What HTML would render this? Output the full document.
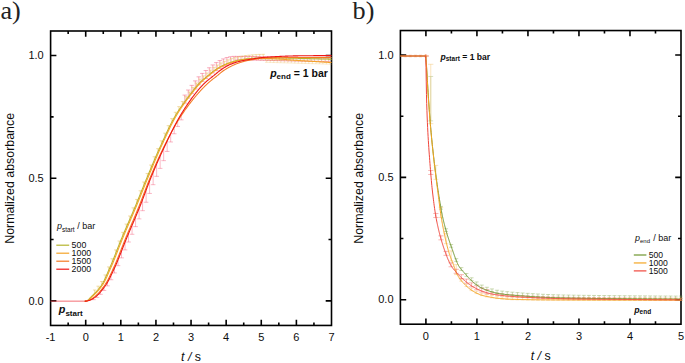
<!DOCTYPE html>
<html><head><meta charset="utf-8"><title>Normalized absorbance</title>
<style>html,body{margin:0;padding:0;background:#fff}svg{display:block}</style>
</head><body>
<svg width="685" height="363" viewBox="0 0 685 363" font-family='"Liberation Sans", sans-serif' fill="#0d0d0d">
<rect width="685" height="363" fill="#fff"/>
<rect x="50.6" y="31.0" width="280.9" height="294.45" fill="none" stroke="#000" stroke-width="1.6"/>
<path d="M85.71 325.45v-5.8M85.71 31.0v5.8M120.82 325.45v-5.8M120.82 31.0v5.8M155.94 325.45v-5.8M155.94 31.0v5.8M191.05 325.45v-5.8M191.05 31.0v5.8M226.16 325.45v-5.8M226.16 31.0v5.8M261.27 325.45v-5.8M261.27 31.0v5.8M296.39 325.45v-5.8M296.39 31.0v5.8M68.16 325.45v-3.0M68.16 31.0v3.0M103.27 325.45v-3.0M103.27 31.0v3.0M138.38 325.45v-3.0M138.38 31.0v3.0M173.49 325.45v-3.0M173.49 31.0v3.0M208.61 325.45v-3.0M208.61 31.0v3.0M243.72 325.45v-3.0M243.72 31.0v3.0M278.83 325.45v-3.0M278.83 31.0v3.0M313.94 325.45v-3.0M313.94 31.0v3.0M50.6 300.91h5.8M331.5 300.91h-5.8M50.6 178.23h5.8M331.5 178.23h-5.8M50.6 55.54h5.8M331.5 55.54h-5.8M50.6 239.57h3.0M331.5 239.57h-3.0M50.6 116.88h3.0M331.5 116.88h-3.0" stroke="#000" stroke-width="1.6" fill="none"/>
<text x="50.60" y="340.85" font-size="11" text-anchor="middle">-1</text>
<text x="85.71" y="340.85" font-size="11" text-anchor="middle">0</text>
<text x="120.82" y="340.85" font-size="11" text-anchor="middle">1</text>
<text x="155.94" y="340.85" font-size="11" text-anchor="middle">2</text>
<text x="191.05" y="340.85" font-size="11" text-anchor="middle">3</text>
<text x="226.16" y="340.85" font-size="11" text-anchor="middle">4</text>
<text x="261.27" y="340.85" font-size="11" text-anchor="middle">5</text>
<text x="296.39" y="340.85" font-size="11" text-anchor="middle">6</text>
<text x="331.50" y="340.85" font-size="11" text-anchor="middle">7</text>
<text x="43.70" y="304.61" font-size="11" text-anchor="end">0.0</text>
<text x="43.70" y="181.93" font-size="11" text-anchor="end">0.5</text>
<text x="43.70" y="59.24" font-size="11" text-anchor="end">1.0</text>
<text x="191.05" y="361.1" font-size="12.4" text-anchor="middle"><tspan font-style="italic">t /</tspan> s</text>
<text transform="translate(14.4 178.4) rotate(-90)" font-size="12.4" text-anchor="middle">Normalized absorbance</text>
<path d="M93.44 298.36V299.66M91.14 299.66h4.6M96.95 295.68V297.44M94.65 297.44h4.6M100.46 292.00V294.30M98.16 294.30h4.6M103.97 287.55V290.43M101.67 290.43h4.6M107.48 282.34V285.86M105.18 285.86h4.6M110.99 275.56V279.75M108.69 279.75h4.6M114.50 267.99V272.95M112.20 272.95h4.6M118.02 259.85V265.66M115.72 265.66h4.6M121.53 251.03V257.87M119.23 257.87h4.6M125.04 242.10V249.91M122.74 249.91h4.6M128.55 233.56V242.02M126.25 242.02h4.6M132.06 225.29V234.29M129.76 234.29h4.6M135.57 217.02V226.63M133.27 226.63h4.6M139.08 208.53V218.89M136.78 218.89h4.6M142.59 199.54V210.68M140.29 210.68h4.6M146.11 190.17V202.26M143.81 202.26h4.6M149.62 180.95V193.45M147.32 193.45h4.6M153.13 172.33V184.70M150.83 184.70h4.6M156.64 164.03V176.33M154.34 176.33h4.6M160.15 156.03V168.40M157.85 168.40h4.6M163.66 148.36V160.67M161.36 160.67h4.6M167.17 140.94V151.44M164.87 151.44h4.6M170.68 133.69V141.99M168.38 141.99h4.6M174.20 126.72V133.78M171.90 133.78h4.6M177.71 120.17V126.45M175.41 126.45h4.6M181.22 114.14V119.88M178.92 119.88h4.6" fill="none" stroke="#f2466a" stroke-width="0.7" stroke-opacity="0.55"/>
<path d="M184.73 95.08V103.08M182.53 95.08h4.4M182.53 103.08h4.4M188.24 90.02V98.02M186.04 90.02h4.4M186.04 98.02h4.4M191.75 85.37V93.37M189.55 85.37h4.4M189.55 93.37h4.4M195.26 80.90V88.90M193.06 80.90h4.4M193.06 88.90h4.4M198.77 76.83V84.83M196.57 76.83h4.4M196.57 84.83h4.4M202.29 73.43V81.43M200.09 73.43h4.4M200.09 81.43h4.4M205.80 70.54V78.54M203.60 70.54h4.4M203.60 78.54h4.4M209.31 67.77V75.77M207.11 67.77h4.4M207.11 75.77h4.4M212.82 64.94V72.94M210.62 64.94h4.4M210.62 72.94h4.4M216.33 62.60V70.60M214.13 62.60h4.4M214.13 70.60h4.4M219.84 60.58V68.58M217.64 60.58h4.4M217.64 68.58h4.4M223.35 58.93V66.93M221.15 58.93h4.4M221.15 66.93h4.4M226.86 57.57V65.57M224.66 57.57h4.4M224.66 65.57h4.4M230.38 56.79V64.33M228.18 56.79h4.4M228.18 64.33h4.4M233.89 56.36V62.99M231.69 56.36h4.4M231.69 62.99h4.4M237.40 56.40V60.00M235.20 56.40h4.4M235.20 60.00h4.4M240.91 56.40V60.00M238.71 56.40h4.4M238.71 60.00h4.4M244.42 56.40V60.00M242.22 56.40h4.4M242.22 60.00h4.4M247.93 56.40V60.00M245.73 56.40h4.4M245.73 60.00h4.4M251.44 56.43V60.03M249.24 56.43h4.4M249.24 60.03h4.4M254.95 56.51V60.11M252.75 56.51h4.4M252.75 60.11h4.4M258.47 56.59V60.19M256.27 56.59h4.4M256.27 60.19h4.4M261.98 56.66V60.26M259.78 56.66h4.4M259.78 60.26h4.4M265.49 56.74V60.34M263.29 56.74h4.4M263.29 60.34h4.4M269.00 56.82V60.42M266.80 56.82h4.4M266.80 60.42h4.4M272.51 56.90V60.50M270.31 56.90h4.4M270.31 60.50h4.4M276.02 56.97V60.57M273.82 56.97h4.4M273.82 60.57h4.4M279.53 57.05V60.65M277.33 57.05h4.4M277.33 60.65h4.4M283.04 57.13V60.73M280.84 57.13h4.4M280.84 60.73h4.4M286.56 57.20V60.80M284.36 57.20h4.4M284.36 60.80h4.4M290.07 57.28V60.88M287.87 57.28h4.4M287.87 60.88h4.4M293.58 57.36V60.96M291.38 57.36h4.4M291.38 60.96h4.4M297.09 57.44V61.04M294.89 57.44h4.4M294.89 61.04h4.4M300.60 57.51V61.11M298.40 57.51h4.4M298.40 61.11h4.4M304.11 57.59V61.19M301.91 57.59h4.4M301.91 61.19h4.4M307.62 57.67V61.27M305.42 57.67h4.4M305.42 61.27h4.4M311.13 57.74V61.34M308.93 57.74h4.4M308.93 61.34h4.4M314.65 57.82V61.42M312.45 57.82h4.4M312.45 61.42h4.4M318.16 57.90V61.50M315.96 57.90h4.4M315.96 61.50h4.4M321.67 57.98V61.58M319.47 57.98h4.4M319.47 61.58h4.4M325.18 58.05V61.65M322.98 58.05h4.4M322.98 61.65h4.4M328.69 58.13V61.73M326.49 58.13h4.4M326.49 61.73h4.4" fill="none" stroke="#f03c62" stroke-width="0.7" stroke-opacity="0.6"/>
<path d="M94.64 289.98V293.38M92.94 289.98h3.4M98.15 286.17V289.57M96.45 286.17h3.4M101.66 281.51V284.91M99.96 281.51h3.4M105.17 274.93V278.33M103.47 274.93h3.4M108.68 266.93V270.33M106.98 266.93h3.4M112.19 258.74V262.14M110.49 258.74h3.4M115.70 249.95V253.35M114.00 249.95h3.4M119.22 240.99V244.39M117.52 240.99h3.4M122.73 232.34V235.74M121.03 232.34h3.4M126.24 224.09V227.49M124.54 224.09h3.4M129.75 215.99V219.39M128.05 215.99h3.4M133.26 207.84V211.24M131.56 207.84h3.4M136.77 199.43V202.83M135.07 199.43h3.4M140.28 190.76V194.16M138.58 190.76h3.4M143.79 182.03V185.43M142.09 182.03h3.4M147.31 173.47V176.87M145.61 173.47h3.4M150.82 165.05V168.45M149.12 165.05h3.4M154.33 156.73V160.13M152.63 156.73h3.4M157.84 148.63V152.03M156.14 148.63h3.4M161.35 140.85V144.25M159.65 140.85h3.4M164.86 133.15V136.55M163.16 133.15h3.4M168.37 125.65V129.05M166.67 125.65h3.4M171.88 118.60V122.00M170.18 118.60h3.4M175.40 112.27V115.67M173.70 112.27h3.4M178.91 106.64V110.04M177.21 106.64h3.4M182.42 101.47V104.87M180.72 101.47h3.4M185.93 96.63V100.03M184.23 96.63h3.4M189.44 91.98V95.38M187.74 91.98h3.4M192.95 87.41V90.81M191.25 87.41h3.4M196.46 83.02V86.42M194.76 83.02h3.4M199.97 79.13V82.53M198.27 79.13h3.4M203.49 75.90V79.30M201.79 75.90h3.4M207.00 73.03V76.43M205.30 73.03h3.4M210.51 70.13V73.53M208.81 70.13h3.4M214.02 67.35V70.75M212.32 67.35h3.4M217.53 65.02V68.42M215.83 65.02h3.4M221.04 62.99V66.39M219.34 62.99h3.4M224.55 61.30V64.70M222.85 61.30h3.4M228.06 59.85V63.25M226.36 59.85h3.4M231.58 58.65V62.05M229.88 58.65h3.4M235.09 57.65V61.05M233.39 57.65h3.4M238.60 56.82V60.22M236.90 56.82h3.4M242.11 56.15V59.55M240.41 56.15h3.4M245.62 55.59V58.99M243.92 55.59h3.4M249.13 55.19V58.59M247.43 55.19h3.4M252.64 54.89V58.29M250.94 54.89h3.4M256.15 54.63V58.03M254.45 54.63h3.4M259.67 54.43V57.83M257.97 54.43h3.4M263.18 54.32V57.72M261.48 54.32h3.4" fill="none" stroke="#e4b23a" stroke-width="0.7" stroke-opacity="0.6"/>
<path d="M266.69 59.90V62.30M264.99 59.90h3.4M264.99 62.30h3.4M270.20 60.01V62.41M268.50 60.01h3.4M268.50 62.41h3.4M273.71 60.12V62.52M272.01 60.12h3.4M272.01 62.52h3.4M277.22 60.22V62.62M275.52 60.22h3.4M275.52 62.62h3.4M280.73 60.33V62.73M279.03 60.33h3.4M279.03 62.73h3.4M284.24 60.43V62.83M282.54 60.43h3.4M282.54 62.83h3.4M287.76 60.54V62.94M286.06 60.54h3.4M286.06 62.94h3.4M291.27 60.64V63.04M289.57 60.64h3.4M289.57 63.04h3.4M294.78 60.75V63.15M293.08 60.75h3.4M293.08 63.15h3.4M298.29 60.85V63.25M296.59 60.85h3.4M296.59 63.25h3.4M301.80 60.96V63.36M300.10 60.96h3.4M300.10 63.36h3.4M305.31 61.06V63.46M303.61 61.06h3.4M303.61 63.46h3.4M308.82 61.17V63.57M307.12 61.17h3.4M307.12 63.57h3.4M312.33 61.27V63.67M310.63 61.27h3.4M310.63 63.67h3.4M315.85 61.38V63.78M314.15 61.38h3.4M314.15 63.78h3.4M319.36 61.48V63.88M317.66 61.48h3.4M317.66 63.88h3.4M322.87 61.59V63.99M321.17 61.59h3.4M321.17 63.99h3.4M326.38 61.70V64.10M324.68 61.70h3.4M324.68 64.10h3.4M329.89 61.80V64.20M328.19 61.80h3.4M328.19 64.20h3.4" fill="none" stroke="#ecb040" stroke-width="0.7" stroke-opacity="0.4"/>
<path d="M260.67 57.80V59.80M259.07 57.80h3.2M259.07 59.80h3.2M264.18 57.80V59.80M262.58 57.80h3.2M262.58 59.80h3.2M267.69 57.80V59.80M266.09 57.80h3.2M266.09 59.80h3.2M271.20 57.80V59.80M269.60 57.80h3.2M269.60 59.80h3.2M274.71 57.80V59.80M273.11 57.80h3.2M273.11 59.80h3.2M278.22 57.80V59.80M276.62 57.80h3.2M276.62 59.80h3.2M281.73 57.80V59.80M280.13 57.80h3.2M280.13 59.80h3.2M285.24 57.80V59.80M283.64 57.80h3.2M283.64 59.80h3.2M288.76 57.80V59.80M287.16 57.80h3.2M287.16 59.80h3.2M292.27 57.80V59.80M290.67 57.80h3.2M290.67 59.80h3.2M295.78 57.80V59.80M294.18 57.80h3.2M294.18 59.80h3.2M299.29 57.80V59.80M297.69 57.80h3.2M297.69 59.80h3.2M302.80 57.80V59.80M301.20 57.80h3.2M301.20 59.80h3.2M306.31 57.80V59.80M304.71 57.80h3.2M304.71 59.80h3.2M309.82 57.80V59.80M308.22 57.80h3.2M308.22 59.80h3.2M313.33 57.80V59.80M311.73 57.80h3.2M311.73 59.80h3.2M316.85 57.80V59.80M315.25 57.80h3.2M315.25 59.80h3.2M320.36 57.80V59.80M318.76 57.80h3.2M318.76 59.80h3.2M323.87 57.80V59.80M322.27 57.80h3.2M322.27 59.80h3.2M327.38 57.80V59.80M325.78 57.80h3.2M325.78 59.80h3.2M330.89 57.80V59.80M329.29 57.80h3.2M329.29 59.80h3.2" fill="none" stroke="#b8c060" stroke-width="0.7" stroke-opacity="0.35"/>
<path d="M84.50 301.15 L84.85 301.15 L85.21 301.15 L85.56 301.12 L85.91 301.05 L86.27 300.94 L86.62 300.81 L86.97 300.65 L87.33 300.48 L87.68 300.30 L88.03 300.05 L88.39 299.74 L88.74 299.38 L89.09 298.99 L89.45 298.60 L89.80 298.21 L90.15 297.84 L90.51 297.49 L90.86 297.13 L91.21 296.78 L91.57 296.43 L91.92 296.08 L92.27 295.74 L92.63 295.39 L92.98 295.04 L93.33 294.69 L93.69 294.34 L94.04 293.99 L94.39 293.63 L94.75 293.27 L95.10 292.91 L95.45 292.54 L95.81 292.17 L96.16 291.80 L96.51 291.42 L96.87 291.03 L97.22 290.64 L97.57 290.24 L97.93 289.83 L98.28 289.41 L98.63 288.99 L98.99 288.55 L99.34 288.11 L99.69 287.65 L100.05 287.19 L100.40 286.71 L100.75 286.22 L101.11 285.72 L101.46 285.21 L101.81 284.67 L102.17 284.11 L102.52 283.52 L102.87 282.90 L103.23 282.26 L103.58 281.59 L103.93 280.90 L104.29 280.19 L104.64 279.46 L104.99 278.71 L105.35 277.94 L105.70 277.17 L106.06 276.38 L106.41 275.58 L106.76 274.77 L107.12 273.96 L107.47 273.14 L107.82 272.32 L108.18 271.50 L108.53 270.69 L108.88 269.87 L109.24 269.06 L109.59 268.25 L109.94 267.45 L110.30 266.64 L110.65 265.82 L111.00 264.99 L111.36 264.15 L111.71 263.31 L112.06 262.46 L112.42 261.60 L112.77 260.73 L113.12 259.86 L113.48 258.98 L113.83 258.10 L114.18 257.21 L114.54 256.32 L114.89 255.43 L115.24 254.53 L115.60 253.63 L115.95 252.73 L116.30 251.83 L116.66 250.92 L117.01 250.02 L117.36 249.11 L117.72 248.21 L118.07 247.31 L118.42 246.41 L118.78 245.51 L119.13 244.61 L119.48 243.72 L119.84 242.83 L120.19 241.94 L120.54 241.06 L120.90 240.18 L121.25 239.31 L121.60 238.45 L121.96 237.59 L122.31 236.74 L122.66 235.89 L123.02 235.05 L123.37 234.21 L123.72 233.37 L124.08 232.54 L124.43 231.71 L124.78 230.88 L125.14 230.05 L125.49 229.23 L125.84 228.41 L126.20 227.59 L126.55 226.77 L126.90 225.95 L127.26 225.14 L127.61 224.32 L127.96 223.51 L128.32 222.69 L128.67 221.88 L129.02 221.07 L129.38 220.25 L129.73 219.44 L130.08 218.63 L130.44 217.81 L130.79 216.99 L131.14 216.18 L131.50 215.36 L131.85 214.54 L132.20 213.72 L132.56 212.89 L132.91 212.06 L133.26 211.24 L133.62 210.40 L133.97 209.57 L134.32 208.73 L134.68 207.89 L135.03 207.05 L135.38 206.20 L135.74 205.35 L136.09 204.49 L136.44 203.63 L136.80 202.77 L137.15 201.91 L137.50 201.04 L137.86 200.17 L138.21 199.30 L138.56 198.43 L138.92 197.55 L139.27 196.67 L139.62 195.80 L139.98 194.92 L140.33 194.04 L140.68 193.16 L141.04 192.28 L141.39 191.40 L141.74 190.52 L142.10 189.64 L142.45 188.76 L142.80 187.88 L143.16 187.01 L143.51 186.13 L143.86 185.26 L144.22 184.38 L144.57 183.51 L144.92 182.64 L145.28 181.78 L145.63 180.91 L145.98 180.05 L146.34 179.20 L146.69 178.34 L147.05 177.49 L147.40 176.64 L147.75 175.80 L148.11 174.95 L148.46 174.10 L148.81 173.26 L149.17 172.41 L149.52 171.56 L149.87 170.71 L150.23 169.87 L150.58 169.02 L150.93 168.18 L151.29 167.34 L151.64 166.49 L151.99 165.65 L152.35 164.81 L152.70 163.97 L153.05 163.14 L153.41 162.30 L153.76 161.47 L154.11 160.64 L154.47 159.81 L154.82 158.98 L155.17 158.16 L155.53 157.34 L155.88 156.52 L156.23 155.70 L156.59 154.89 L156.94 154.08 L157.29 153.27 L157.65 152.47 L158.00 151.67 L158.35 150.88 L158.71 150.08 L159.06 149.30 L159.41 148.51 L159.77 147.73 L160.12 146.96 L160.47 146.18 L160.83 145.41 L161.18 144.63 L161.53 143.85 L161.89 143.08 L162.24 142.30 L162.59 141.52 L162.95 140.75 L163.30 139.97 L163.65 139.19 L164.01 138.42 L164.36 137.65 L164.71 136.87 L165.07 136.10 L165.42 135.34 L165.77 134.57 L166.13 133.81 L166.48 133.05 L166.83 132.30 L167.19 131.54 L167.54 130.79 L167.89 130.05 L168.25 129.31 L168.60 128.57 L168.95 127.84 L169.31 127.12 L169.66 126.40 L170.01 125.68 L170.37 124.97 L170.72 124.27 L171.07 123.57 L171.43 122.88 L171.78 122.20 L172.13 121.52 L172.49 120.86 L172.84 120.20 L173.19 119.54 L173.55 118.90 L173.90 118.26 L174.25 117.63 L174.61 117.02 L174.96 116.41 L175.31 115.81 L175.67 115.21 L176.02 114.63 L176.37 114.05 L176.73 113.47 L177.08 112.90 L177.43 112.34 L177.79 111.78 L178.14 111.22 L178.49 110.67 L178.85 110.13 L179.20 109.59 L179.55 109.05 L179.91 108.52 L180.26 108.00 L180.61 107.47 L180.97 106.96 L181.32 106.44 L181.67 105.93 L182.03 105.42 L182.38 104.92 L182.73 104.42 L183.09 103.92 L183.44 103.43 L183.79 102.94 L184.15 102.45 L184.50 101.96 L184.85 101.48 L185.21 101.00 L185.56 100.52 L185.91 100.05 L186.27 99.57 L186.62 99.10 L186.97 98.63 L187.33 98.16 L187.68 97.69 L188.04 97.23 L188.39 96.76 L188.74 96.30 L189.10 95.83 L189.45 95.37 L189.80 94.91 L190.16 94.45 L190.51 93.99 L190.86 93.53 L191.22 93.07 L191.57 92.61 L191.92 92.15 L192.28 91.69 L192.63 91.23 L192.98 90.77 L193.34 90.32 L193.69 89.87 L194.04 89.42 L194.40 88.97 L194.75 88.52 L195.10 88.08 L195.46 87.65 L195.81 87.21 L196.16 86.79 L196.52 86.36 L196.87 85.94 L197.22 85.53 L197.58 85.12 L197.93 84.72 L198.28 84.32 L198.64 83.93 L198.99 83.55 L199.34 83.18 L199.70 82.81 L200.05 82.45 L200.40 82.10 L200.76 81.76 L201.11 81.42 L201.46 81.09 L201.82 80.76 L202.17 80.44 L202.52 80.13 L202.88 79.82 L203.23 79.52 L203.58 79.21 L203.94 78.92 L204.29 78.62 L204.64 78.33 L205.00 78.04 L205.35 77.76 L205.70 77.47 L206.06 77.19 L206.41 76.90 L206.76 76.62 L207.12 76.33 L207.47 76.05 L207.82 75.76 L208.18 75.48 L208.53 75.19 L208.88 74.90 L209.24 74.60 L209.59 74.31 L209.94 74.01 L210.30 73.71 L210.65 73.41 L211.00 73.11 L211.36 72.81 L211.71 72.52 L212.06 72.23 L212.42 71.94 L212.77 71.66 L213.12 71.39 L213.48 71.13 L213.83 70.88 L214.18 70.63 L214.54 70.39 L214.89 70.15 L215.24 69.91 L215.60 69.67 L215.95 69.43 L216.30 69.20 L216.66 68.97 L217.01 68.75 L217.36 68.52 L217.72 68.30 L218.07 68.08 L218.42 67.87 L218.78 67.66 L219.13 67.45 L219.48 67.25 L219.84 67.04 L220.19 66.85 L220.54 66.65 L220.90 66.46 L221.25 66.28 L221.60 66.09 L221.96 65.91 L222.31 65.74 L222.66 65.57 L223.02 65.40 L223.37 65.24 L223.72 65.07 L224.08 64.91 L224.43 64.75 L224.78 64.59 L225.14 64.44 L225.49 64.29 L225.84 64.14 L226.20 63.99 L226.55 63.84 L226.90 63.70 L227.26 63.56 L227.61 63.42 L227.96 63.28 L228.32 63.15 L228.67 63.02 L229.03 62.89 L229.38 62.77 L229.73 62.64 L230.09 62.52 L230.44 62.41 L230.79 62.29 L231.15 62.18 L231.50 62.07 L231.85 61.96 L232.21 61.86 L232.56 61.75 L232.91 61.65 L233.27 61.55 L233.62 61.45 L233.97 61.35 L234.33 61.25 L234.68 61.16 L235.03 61.06 L235.39 60.97 L235.74 60.88 L236.09 60.79 L236.45 60.71 L236.80 60.62 L237.15 60.54 L237.51 60.46 L237.86 60.38 L238.21 60.30 L238.57 60.22 L238.92 60.15 L239.27 60.08 L239.63 60.01 L239.98 59.94 L240.33 59.88 L240.69 59.81 L241.04 59.75 L241.39 59.68 L241.75 59.62 L242.10 59.56 L242.45 59.49 L242.81 59.43 L243.16 59.37 L243.51 59.31 L243.87 59.26 L244.22 59.20 L244.57 59.14 L244.93 59.09 L245.28 59.04 L245.63 58.99 L245.99 58.94 L246.34 58.89 L246.69 58.85 L247.05 58.80 L247.40 58.76 L247.75 58.72 L248.11 58.68 L248.46 58.65 L248.81 58.62 L249.17 58.59 L249.52 58.56 L249.87 58.53 L250.23 58.50 L250.58 58.47 L250.93 58.44 L251.29 58.41 L251.64 58.38 L251.99 58.35 L252.35 58.32 L252.70 58.29 L253.05 58.26 L253.41 58.23 L253.76 58.21 L254.11 58.18 L254.47 58.15 L254.82 58.13 L255.17 58.10 L255.53 58.08 L255.88 58.05 L256.23 58.03 L256.59 58.00 L256.94 57.98 L257.29 57.96 L257.65 57.94 L258.00 57.92 L258.35 57.90 L258.71 57.88 L259.06 57.86 L259.41 57.84 L259.77 57.82 L260.12 57.81 L260.47 57.79 L260.83 57.78 L261.18 57.77 L261.53 57.76 L261.89 57.75 L262.24 57.74 L262.59 57.73 L262.95 57.72 L263.30 57.71 L263.65 57.71 L264.01 57.70 L264.36 57.70 L264.71 57.70 L265.07 57.70 L265.42 57.70 L265.77 57.70 L266.13 57.70 L266.48 57.70 L266.83 57.70 L267.19 57.71 L267.54 57.71 L267.89 57.71 L268.25 57.71 L268.60 57.71 L268.95 57.72 L269.31 57.72 L269.66 57.72 L270.02 57.73 L270.37 57.73 L270.72 57.73 L271.08 57.74 L271.43 57.74 L271.78 57.75 L272.14 57.75 L272.49 57.76 L272.84 57.76 L273.20 57.77 L273.55 57.77 L273.90 57.78 L274.26 57.78 L274.61 57.79 L274.96 57.79 L275.32 57.80 L275.67 57.81 L276.02 57.81 L276.38 57.82 L276.73 57.83 L277.08 57.83 L277.44 57.84 L277.79 57.85 L278.14 57.85 L278.50 57.86 L278.85 57.87 L279.20 57.88 L279.56 57.88 L279.91 57.89 L280.26 57.90 L280.62 57.91 L280.97 57.92 L281.32 57.92 L281.68 57.93 L282.03 57.94 L282.38 57.95 L282.74 57.96 L283.09 57.97 L283.44 57.98 L283.80 57.99 L284.15 57.99 L284.50 58.00 L284.86 58.01 L285.21 58.02 L285.56 58.03 L285.92 58.04 L286.27 58.05 L286.62 58.06 L286.98 58.07 L287.33 58.08 L287.68 58.09 L288.04 58.10 L288.39 58.10 L288.74 58.11 L289.10 58.12 L289.45 58.13 L289.80 58.14 L290.16 58.15 L290.51 58.16 L290.86 58.17 L291.22 58.18 L291.57 58.19 L291.92 58.20 L292.28 58.21 L292.63 58.22 L292.98 58.23 L293.34 58.24 L293.69 58.25 L294.04 58.25 L294.40 58.26 L294.75 58.27 L295.10 58.28 L295.46 58.29 L295.81 58.30 L296.16 58.31 L296.52 58.32 L296.87 58.33 L297.22 58.33 L297.58 58.34 L297.93 58.35 L298.28 58.36 L298.64 58.37 L298.99 58.38 L299.34 58.39 L299.70 58.39 L300.05 58.40 L300.40 58.41 L300.76 58.42 L301.11 58.43 L301.46 58.43 L301.82 58.44 L302.17 58.45 L302.52 58.46 L302.88 58.47 L303.23 58.47 L303.58 58.48 L303.94 58.49 L304.29 58.50 L304.64 58.51 L305.00 58.51 L305.35 58.52 L305.70 58.53 L306.06 58.54 L306.41 58.55 L306.76 58.56 L307.12 58.56 L307.47 58.57 L307.82 58.58 L308.18 58.59 L308.53 58.60 L308.88 58.61 L309.24 58.62 L309.59 58.62 L309.94 58.63 L310.30 58.64 L310.65 58.65 L311.01 58.66 L311.36 58.67 L311.71 58.68 L312.07 58.69 L312.42 58.69 L312.77 58.70 L313.13 58.71 L313.48 58.72 L313.83 58.73 L314.19 58.74 L314.54 58.75 L314.89 58.76 L315.25 58.77 L315.60 58.77 L315.95 58.78 L316.31 58.79 L316.66 58.80 L317.01 58.81 L317.37 58.82 L317.72 58.83 L318.07 58.84 L318.43 58.85 L318.78 58.86 L319.13 58.87 L319.49 58.87 L319.84 58.88 L320.19 58.89 L320.55 58.90 L320.90 58.91 L321.25 58.92 L321.61 58.93 L321.96 58.94 L322.31 58.95 L322.67 58.96 L323.02 58.97 L323.37 58.98 L323.73 58.99 L324.08 59.00 L324.43 59.01 L324.79 59.02 L325.14 59.02 L325.49 59.03 L325.85 59.04 L326.20 59.05 L326.55 59.06 L326.91 59.07 L327.26 59.08 L327.61 59.09 L327.97 59.10 L328.32 59.11 L328.67 59.12 L329.03 59.13 L329.38 59.14 L329.73 59.15 L330.09 59.16 L330.44 59.17 L330.79 59.18 L331.15 59.19 L331.50 59.20" fill="none" stroke="#b5b52e" stroke-width="1.05" stroke-linejoin="round"/>
<path d="M84.50 301.15 L84.85 301.15 L85.21 301.15 L85.56 301.15 L85.91 301.11 L86.27 301.04 L86.62 300.94 L86.97 300.82 L87.33 300.68 L87.68 300.54 L88.03 300.39 L88.39 300.20 L88.74 299.95 L89.09 299.66 L89.45 299.34 L89.80 298.99 L90.15 298.64 L90.51 298.28 L90.86 297.94 L91.21 297.61 L91.57 297.28 L91.92 296.94 L92.27 296.61 L92.63 296.28 L92.98 295.94 L93.33 295.60 L93.69 295.26 L94.04 294.92 L94.39 294.57 L94.75 294.22 L95.10 293.87 L95.45 293.52 L95.81 293.16 L96.16 292.79 L96.51 292.42 L96.87 292.04 L97.22 291.66 L97.57 291.27 L97.93 290.88 L98.28 290.48 L98.63 290.07 L98.99 289.65 L99.34 289.22 L99.69 288.79 L100.05 288.35 L100.40 287.90 L100.75 287.43 L101.11 286.96 L101.46 286.48 L101.81 285.99 L102.17 285.48 L102.52 284.97 L102.87 284.43 L103.23 283.86 L103.58 283.27 L103.93 282.65 L104.29 282.00 L104.64 281.33 L104.99 280.64 L105.35 279.93 L105.70 279.21 L106.06 278.46 L106.41 277.71 L106.76 276.94 L107.12 276.16 L107.47 275.37 L107.82 274.57 L108.18 273.76 L108.53 272.96 L108.88 272.15 L109.24 271.33 L109.59 270.52 L109.94 269.72 L110.30 268.91 L110.65 268.12 L111.00 267.32 L111.36 266.51 L111.71 265.69 L112.06 264.87 L112.42 264.03 L112.77 263.19 L113.12 262.34 L113.48 261.48 L113.83 260.61 L114.18 259.74 L114.54 258.86 L114.89 257.98 L115.24 257.09 L115.60 256.20 L115.95 255.31 L116.30 254.41 L116.66 253.51 L117.01 252.61 L117.36 251.70 L117.72 250.80 L118.07 249.89 L118.42 248.99 L118.78 248.08 L119.13 247.18 L119.48 246.27 L119.84 245.37 L120.19 244.47 L120.54 243.58 L120.90 242.69 L121.25 241.80 L121.60 240.92 L121.96 240.04 L122.31 239.17 L122.66 238.30 L123.02 237.44 L123.37 236.59 L123.72 235.74 L124.08 234.90 L124.43 234.06 L124.78 233.22 L125.14 232.38 L125.49 231.55 L125.84 230.72 L126.20 229.89 L126.55 229.06 L126.90 228.24 L127.26 227.42 L127.61 226.59 L127.96 225.77 L128.32 224.95 L128.67 224.14 L129.02 223.32 L129.38 222.50 L129.73 221.68 L130.08 220.87 L130.44 220.05 L130.79 219.23 L131.14 218.41 L131.50 217.59 L131.85 216.77 L132.20 215.95 L132.56 215.13 L132.91 214.30 L133.26 213.48 L133.62 212.65 L133.97 211.82 L134.32 210.99 L134.68 210.15 L135.03 209.31 L135.38 208.47 L135.74 207.63 L136.09 206.78 L136.44 205.93 L136.80 205.08 L137.15 204.22 L137.50 203.36 L137.86 202.50 L138.21 201.63 L138.56 200.76 L138.92 199.89 L139.27 199.02 L139.62 198.15 L139.98 197.27 L140.33 196.40 L140.68 195.52 L141.04 194.64 L141.39 193.76 L141.74 192.88 L142.10 192.00 L142.45 191.13 L142.80 190.25 L143.16 189.37 L143.51 188.49 L143.86 187.61 L144.22 186.74 L144.57 185.86 L144.92 184.99 L145.28 184.12 L145.63 183.25 L145.98 182.38 L146.34 181.51 L146.69 180.65 L147.05 179.79 L147.40 178.93 L147.75 178.08 L148.11 177.23 L148.46 176.38 L148.81 175.53 L149.17 174.68 L149.52 173.83 L149.87 172.98 L150.23 172.13 L150.58 171.28 L150.93 170.43 L151.29 169.58 L151.64 168.73 L151.99 167.89 L152.35 167.04 L152.70 166.19 L153.05 165.35 L153.41 164.51 L153.76 163.66 L154.11 162.82 L154.47 161.99 L154.82 161.15 L155.17 160.32 L155.53 159.48 L155.88 158.65 L156.23 157.83 L156.59 157.00 L156.94 156.18 L157.29 155.36 L157.65 154.55 L158.00 153.74 L158.35 152.93 L158.71 152.12 L159.06 151.32 L159.41 150.53 L159.77 149.73 L160.12 148.95 L160.47 148.16 L160.83 147.38 L161.18 146.61 L161.53 145.83 L161.89 145.05 L162.24 144.28 L162.59 143.50 L162.95 142.72 L163.30 141.94 L163.65 141.16 L164.01 140.39 L164.36 139.61 L164.71 138.84 L165.07 138.06 L165.42 137.29 L165.77 136.52 L166.13 135.75 L166.48 134.99 L166.83 134.23 L167.19 133.47 L167.54 132.71 L167.89 131.96 L168.25 131.21 L168.60 130.46 L168.95 129.72 L169.31 128.98 L169.66 128.25 L170.01 127.52 L170.37 126.80 L170.72 126.08 L171.07 125.37 L171.43 124.66 L171.78 123.96 L172.13 123.27 L172.49 122.58 L172.84 121.90 L173.19 121.23 L173.55 120.57 L173.90 119.91 L174.25 119.26 L174.61 118.62 L174.96 117.98 L175.31 117.36 L175.67 116.74 L176.02 116.13 L176.37 115.54 L176.73 114.94 L177.08 114.36 L177.43 113.78 L177.79 113.20 L178.14 112.63 L178.49 112.06 L178.85 111.50 L179.20 110.95 L179.55 110.40 L179.91 109.85 L180.26 109.31 L180.61 108.77 L180.97 108.24 L181.32 107.71 L181.67 107.19 L182.03 106.67 L182.38 106.15 L182.73 105.64 L183.09 105.13 L183.44 104.63 L183.79 104.12 L184.15 103.62 L184.50 103.13 L184.85 102.63 L185.21 102.14 L185.56 101.66 L185.91 101.17 L186.27 100.69 L186.62 100.21 L186.97 99.73 L187.33 99.25 L187.68 98.78 L188.04 98.31 L188.39 97.83 L188.74 97.36 L189.10 96.90 L189.45 96.43 L189.80 95.96 L190.16 95.50 L190.51 95.04 L190.86 94.57 L191.22 94.11 L191.57 93.65 L191.92 93.19 L192.28 92.73 L192.63 92.26 L192.98 91.80 L193.34 91.35 L193.69 90.89 L194.04 90.43 L194.40 89.98 L194.75 89.53 L195.10 89.08 L195.46 88.64 L195.81 88.20 L196.16 87.76 L196.52 87.32 L196.87 86.89 L197.22 86.47 L197.58 86.05 L197.93 85.64 L198.28 85.23 L198.64 84.82 L198.99 84.43 L199.34 84.04 L199.70 83.65 L200.05 83.28 L200.40 82.91 L200.76 82.54 L201.11 82.19 L201.46 81.85 L201.82 81.51 L202.17 81.17 L202.52 80.85 L202.88 80.53 L203.23 80.21 L203.58 79.90 L203.94 79.60 L204.29 79.29 L204.64 79.00 L205.00 78.70 L205.35 78.41 L205.70 78.12 L206.06 77.83 L206.41 77.55 L206.76 77.26 L207.12 76.98 L207.47 76.69 L207.82 76.41 L208.18 76.12 L208.53 75.84 L208.88 75.55 L209.24 75.26 L209.59 74.97 L209.94 74.68 L210.30 74.38 L210.65 74.08 L211.00 73.78 L211.36 73.48 L211.71 73.18 L212.06 72.88 L212.42 72.59 L212.77 72.30 L213.12 72.01 L213.48 71.73 L213.83 71.46 L214.18 71.20 L214.54 70.94 L214.89 70.70 L215.24 70.46 L215.60 70.22 L215.95 69.98 L216.30 69.74 L216.66 69.51 L217.01 69.28 L217.36 69.06 L217.72 68.83 L218.07 68.61 L218.42 68.40 L218.78 68.18 L219.13 67.97 L219.48 67.76 L219.84 67.56 L220.19 67.36 L220.54 67.16 L220.90 66.97 L221.25 66.78 L221.60 66.59 L221.96 66.41 L222.31 66.23 L222.66 66.05 L223.02 65.88 L223.37 65.71 L223.72 65.55 L224.08 65.39 L224.43 65.23 L224.78 65.07 L225.14 64.91 L225.49 64.76 L225.84 64.61 L226.20 64.46 L226.55 64.31 L226.90 64.17 L227.26 64.02 L227.61 63.88 L227.96 63.75 L228.32 63.61 L228.67 63.48 L229.03 63.35 L229.38 63.22 L229.73 63.10 L230.09 62.97 L230.44 62.85 L230.79 62.74 L231.15 62.62 L231.50 62.51 L231.85 62.40 L232.21 62.30 L232.56 62.19 L232.91 62.09 L233.27 61.99 L233.62 61.89 L233.97 61.79 L234.33 61.70 L234.68 61.60 L235.03 61.51 L235.39 61.42 L235.74 61.33 L236.09 61.24 L236.45 61.15 L236.80 61.07 L237.15 60.99 L237.51 60.90 L237.86 60.82 L238.21 60.75 L238.57 60.67 L238.92 60.60 L239.27 60.52 L239.63 60.45 L239.98 60.39 L240.33 60.32 L240.69 60.26 L241.04 60.19 L241.39 60.13 L241.75 60.07 L242.10 60.01 L242.45 59.95 L242.81 59.89 L243.16 59.83 L243.51 59.77 L243.87 59.71 L244.22 59.65 L244.57 59.60 L244.93 59.54 L245.28 59.49 L245.63 59.44 L245.99 59.39 L246.34 59.34 L246.69 59.29 L247.05 59.25 L247.40 59.21 L247.75 59.17 L248.11 59.13 L248.46 59.10 L248.81 59.07 L249.17 59.04 L249.52 59.02 L249.87 59.00 L250.23 58.98 L250.58 58.96 L250.93 58.94 L251.29 58.92 L251.64 58.90 L251.99 58.88 L252.35 58.86 L252.70 58.85 L253.05 58.83 L253.41 58.81 L253.76 58.79 L254.11 58.78 L254.47 58.76 L254.82 58.74 L255.17 58.73 L255.53 58.71 L255.88 58.70 L256.23 58.69 L256.59 58.67 L256.94 58.66 L257.29 58.65 L257.65 58.63 L258.00 58.62 L258.35 58.61 L258.71 58.60 L259.06 58.59 L259.41 58.58 L259.77 58.57 L260.12 58.56 L260.47 58.55 L260.83 58.54 L261.18 58.54 L261.53 58.53 L261.89 58.52 L262.24 58.52 L262.59 58.51 L262.95 58.51 L263.30 58.51 L263.65 58.50 L264.01 58.50 L264.36 58.50 L264.71 58.50 L265.07 58.50 L265.42 58.50 L265.77 58.50 L266.13 58.50 L266.48 58.51 L266.83 58.51 L267.19 58.52 L267.54 58.52 L267.89 58.53 L268.25 58.54 L268.60 58.54 L268.95 58.55 L269.31 58.56 L269.66 58.57 L270.02 58.58 L270.37 58.59 L270.72 58.60 L271.08 58.62 L271.43 58.63 L271.78 58.64 L272.14 58.66 L272.49 58.67 L272.84 58.69 L273.20 58.70 L273.55 58.72 L273.90 58.74 L274.26 58.76 L274.61 58.77 L274.96 58.79 L275.32 58.81 L275.67 58.83 L276.02 58.85 L276.38 58.87 L276.73 58.89 L277.08 58.91 L277.44 58.93 L277.79 58.96 L278.14 58.98 L278.50 59.00 L278.85 59.03 L279.20 59.05 L279.56 59.07 L279.91 59.10 L280.26 59.12 L280.62 59.15 L280.97 59.17 L281.32 59.20 L281.68 59.22 L282.03 59.25 L282.38 59.27 L282.74 59.30 L283.09 59.33 L283.44 59.35 L283.80 59.38 L284.15 59.41 L284.50 59.44 L284.86 59.46 L285.21 59.49 L285.56 59.52 L285.92 59.55 L286.27 59.57 L286.62 59.60 L286.98 59.63 L287.33 59.66 L287.68 59.69 L288.04 59.71 L288.39 59.74 L288.74 59.77 L289.10 59.80 L289.45 59.83 L289.80 59.85 L290.16 59.88 L290.51 59.91 L290.86 59.94 L291.22 59.97 L291.57 59.99 L291.92 60.02 L292.28 60.05 L292.63 60.08 L292.98 60.10 L293.34 60.13 L293.69 60.16 L294.04 60.19 L294.40 60.21 L294.75 60.24 L295.10 60.27 L295.46 60.29 L295.81 60.32 L296.16 60.34 L296.52 60.37 L296.87 60.39 L297.22 60.42 L297.58 60.44 L297.93 60.47 L298.28 60.49 L298.64 60.51 L298.99 60.54 L299.34 60.56 L299.70 60.58 L300.05 60.60 L300.40 60.62 L300.76 60.65 L301.11 60.67 L301.46 60.69 L301.82 60.71 L302.17 60.73 L302.52 60.76 L302.88 60.78 L303.23 60.80 L303.58 60.82 L303.94 60.84 L304.29 60.87 L304.64 60.89 L305.00 60.91 L305.35 60.93 L305.70 60.95 L306.06 60.98 L306.41 61.00 L306.76 61.02 L307.12 61.04 L307.47 61.06 L307.82 61.09 L308.18 61.11 L308.53 61.13 L308.88 61.15 L309.24 61.17 L309.59 61.20 L309.94 61.22 L310.30 61.24 L310.65 61.26 L311.01 61.29 L311.36 61.31 L311.71 61.33 L312.07 61.35 L312.42 61.37 L312.77 61.40 L313.13 61.42 L313.48 61.44 L313.83 61.46 L314.19 61.49 L314.54 61.51 L314.89 61.53 L315.25 61.55 L315.60 61.58 L315.95 61.60 L316.31 61.62 L316.66 61.64 L317.01 61.67 L317.37 61.69 L317.72 61.71 L318.07 61.73 L318.43 61.76 L318.78 61.78 L319.13 61.80 L319.49 61.82 L319.84 61.85 L320.19 61.87 L320.55 61.89 L320.90 61.91 L321.25 61.94 L321.61 61.96 L321.96 61.98 L322.31 62.01 L322.67 62.03 L323.02 62.05 L323.37 62.07 L323.73 62.10 L324.08 62.12 L324.43 62.14 L324.79 62.16 L325.14 62.19 L325.49 62.21 L325.85 62.23 L326.20 62.26 L326.55 62.28 L326.91 62.30 L327.26 62.32 L327.61 62.35 L327.97 62.37 L328.32 62.39 L328.67 62.42 L329.03 62.44 L329.38 62.46 L329.73 62.48 L330.09 62.51 L330.44 62.53 L330.79 62.55 L331.15 62.58 L331.50 62.60" fill="none" stroke="#f4a428" stroke-width="1.05" stroke-linejoin="round"/>
<path d="M84.50 301.15 L84.85 301.15 L85.21 301.15 L85.56 301.15 L85.91 301.12 L86.27 301.07 L86.62 301.00 L86.97 300.91 L87.33 300.81 L87.68 300.70 L88.03 300.59 L88.39 300.47 L88.74 300.35 L89.09 300.23 L89.45 300.08 L89.80 299.92 L90.15 299.75 L90.51 299.57 L90.86 299.37 L91.21 299.16 L91.57 298.95 L91.92 298.72 L92.27 298.49 L92.63 298.26 L92.98 298.01 L93.33 297.76 L93.69 297.50 L94.04 297.23 L94.39 296.95 L94.75 296.66 L95.10 296.36 L95.45 296.06 L95.81 295.74 L96.16 295.41 L96.51 295.08 L96.87 294.73 L97.22 294.38 L97.57 294.02 L97.93 293.64 L98.28 293.27 L98.63 292.88 L98.99 292.49 L99.34 292.08 L99.69 291.67 L100.05 291.26 L100.40 290.83 L100.75 290.40 L101.11 289.96 L101.46 289.52 L101.81 289.06 L102.17 288.61 L102.52 288.14 L102.87 287.67 L103.23 287.19 L103.58 286.71 L103.93 286.22 L104.29 285.73 L104.64 285.23 L104.99 284.72 L105.35 284.19 L105.70 283.64 L106.06 283.06 L106.41 282.47 L106.76 281.86 L107.12 281.23 L107.47 280.58 L107.82 279.91 L108.18 279.24 L108.53 278.54 L108.88 277.84 L109.24 277.13 L109.59 276.40 L109.94 275.66 L110.30 274.92 L110.65 274.17 L111.00 273.42 L111.36 272.65 L111.71 271.89 L112.06 271.12 L112.42 270.36 L112.77 269.59 L113.12 268.82 L113.48 268.05 L113.83 267.28 L114.18 266.50 L114.54 265.71 L114.89 264.90 L115.24 264.09 L115.60 263.26 L115.95 262.42 L116.30 261.58 L116.66 260.73 L117.01 259.87 L117.36 259.00 L117.72 258.13 L118.07 257.25 L118.42 256.37 L118.78 255.48 L119.13 254.59 L119.48 253.69 L119.84 252.79 L120.19 251.89 L120.54 250.99 L120.90 250.08 L121.25 249.18 L121.60 248.28 L121.96 247.37 L122.31 246.47 L122.66 245.57 L123.02 244.67 L123.37 243.78 L123.72 242.89 L124.08 242.00 L124.43 241.12 L124.78 240.24 L125.14 239.37 L125.49 238.51 L125.84 237.65 L126.20 236.80 L126.55 235.95 L126.90 235.10 L127.26 234.26 L127.61 233.41 L127.96 232.57 L128.32 231.73 L128.67 230.90 L129.02 230.06 L129.38 229.23 L129.73 228.39 L130.08 227.56 L130.44 226.73 L130.79 225.90 L131.14 225.07 L131.50 224.24 L131.85 223.41 L132.20 222.57 L132.56 221.74 L132.91 220.91 L133.26 220.08 L133.62 219.24 L133.97 218.41 L134.32 217.57 L134.68 216.73 L135.03 215.89 L135.38 215.05 L135.74 214.20 L136.09 213.35 L136.44 212.50 L136.80 211.65 L137.15 210.79 L137.50 209.93 L137.86 209.07 L138.21 208.21 L138.56 207.34 L138.92 206.46 L139.27 205.58 L139.62 204.69 L139.98 203.80 L140.33 202.89 L140.68 201.99 L141.04 201.08 L141.39 200.16 L141.74 199.25 L142.10 198.32 L142.45 197.40 L142.80 196.47 L143.16 195.55 L143.51 194.62 L143.86 193.69 L144.22 192.76 L144.57 191.83 L144.92 190.90 L145.28 189.97 L145.63 189.05 L145.98 188.12 L146.34 187.20 L146.69 186.29 L147.05 185.37 L147.40 184.47 L147.75 183.56 L148.11 182.67 L148.46 181.77 L148.81 180.89 L149.17 180.01 L149.52 179.14 L149.87 178.27 L150.23 177.42 L150.58 176.57 L150.93 175.73 L151.29 174.89 L151.64 174.04 L151.99 173.20 L152.35 172.37 L152.70 171.53 L153.05 170.70 L153.41 169.87 L153.76 169.04 L154.11 168.21 L154.47 167.39 L154.82 166.57 L155.17 165.75 L155.53 164.94 L155.88 164.13 L156.23 163.32 L156.59 162.51 L156.94 161.71 L157.29 160.92 L157.65 160.12 L158.00 159.33 L158.35 158.54 L158.71 157.76 L159.06 156.98 L159.41 156.21 L159.77 155.44 L160.12 154.68 L160.47 153.91 L160.83 153.16 L161.18 152.41 L161.53 151.66 L161.89 150.92 L162.24 150.18 L162.59 149.45 L162.95 148.73 L163.30 148.01 L163.65 147.30 L164.01 146.59 L164.36 145.88 L164.71 145.17 L165.07 144.47 L165.42 143.77 L165.77 143.07 L166.13 142.38 L166.48 141.68 L166.83 140.99 L167.19 140.30 L167.54 139.62 L167.89 138.93 L168.25 138.25 L168.60 137.57 L168.95 136.90 L169.31 136.23 L169.66 135.56 L170.01 134.89 L170.37 134.22 L170.72 133.56 L171.07 132.91 L171.43 132.25 L171.78 131.60 L172.13 130.95 L172.49 130.31 L172.84 129.67 L173.19 129.03 L173.55 128.40 L173.90 127.77 L174.25 127.14 L174.61 126.52 L174.96 125.90 L175.31 125.29 L175.67 124.68 L176.02 124.07 L176.37 123.47 L176.73 122.87 L177.08 122.28 L177.43 121.69 L177.79 121.10 L178.14 120.52 L178.49 119.95 L178.85 119.38 L179.20 118.81 L179.55 118.25 L179.91 117.69 L180.26 117.14 L180.61 116.59 L180.97 116.05 L181.32 115.51 L181.67 114.98 L182.03 114.45 L182.38 113.92 L182.73 113.39 L183.09 112.87 L183.44 112.35 L183.79 111.84 L184.15 111.33 L184.50 110.82 L184.85 110.31 L185.21 109.81 L185.56 109.31 L185.91 108.82 L186.27 108.32 L186.62 107.83 L186.97 107.35 L187.33 106.86 L187.68 106.38 L188.04 105.90 L188.39 105.43 L188.74 104.96 L189.10 104.49 L189.45 104.02 L189.80 103.56 L190.16 103.09 L190.51 102.64 L190.86 102.18 L191.22 101.73 L191.57 101.28 L191.92 100.83 L192.28 100.39 L192.63 99.95 L192.98 99.51 L193.34 99.07 L193.69 98.64 L194.04 98.20 L194.40 97.78 L194.75 97.35 L195.10 96.93 L195.46 96.50 L195.81 96.09 L196.16 95.67 L196.52 95.26 L196.87 94.84 L197.22 94.43 L197.58 94.03 L197.93 93.62 L198.28 93.22 L198.64 92.82 L198.99 92.42 L199.34 92.03 L199.70 91.64 L200.05 91.25 L200.40 90.86 L200.76 90.48 L201.11 90.09 L201.46 89.72 L201.82 89.34 L202.17 88.96 L202.52 88.59 L202.88 88.23 L203.23 87.86 L203.58 87.50 L203.94 87.14 L204.29 86.78 L204.64 86.43 L205.00 86.07 L205.35 85.73 L205.70 85.38 L206.06 85.04 L206.41 84.70 L206.76 84.36 L207.12 84.03 L207.47 83.70 L207.82 83.37 L208.18 83.04 L208.53 82.72 L208.88 82.40 L209.24 82.09 L209.59 81.78 L209.94 81.48 L210.30 81.18 L210.65 80.88 L211.00 80.59 L211.36 80.31 L211.71 80.02 L212.06 79.74 L212.42 79.46 L212.77 79.19 L213.12 78.91 L213.48 78.64 L213.83 78.37 L214.18 78.10 L214.54 77.83 L214.89 77.56 L215.24 77.29 L215.60 77.02 L215.95 76.74 L216.30 76.47 L216.66 76.19 L217.01 75.91 L217.36 75.63 L217.72 75.35 L218.07 75.06 L218.42 74.76 L218.78 74.46 L219.13 74.16 L219.48 73.85 L219.84 73.54 L220.19 73.23 L220.54 72.93 L220.90 72.63 L221.25 72.34 L221.60 72.05 L221.96 71.77 L222.31 71.51 L222.66 71.25 L223.02 71.01 L223.37 70.77 L223.72 70.53 L224.08 70.29 L224.43 70.06 L224.78 69.83 L225.14 69.60 L225.49 69.38 L225.84 69.16 L226.20 68.94 L226.55 68.73 L226.90 68.52 L227.26 68.31 L227.61 68.10 L227.96 67.90 L228.32 67.70 L228.67 67.51 L229.03 67.32 L229.38 67.13 L229.73 66.94 L230.09 66.76 L230.44 66.58 L230.79 66.40 L231.15 66.22 L231.50 66.05 L231.85 65.88 L232.21 65.71 L232.56 65.55 L232.91 65.38 L233.27 65.22 L233.62 65.06 L233.97 64.90 L234.33 64.74 L234.68 64.59 L235.03 64.43 L235.39 64.28 L235.74 64.13 L236.09 63.99 L236.45 63.85 L236.80 63.70 L237.15 63.57 L237.51 63.43 L237.86 63.30 L238.21 63.17 L238.57 63.04 L238.92 62.92 L239.27 62.80 L239.63 62.68 L239.98 62.57 L240.33 62.46 L240.69 62.35 L241.04 62.24 L241.39 62.14 L241.75 62.04 L242.10 61.93 L242.45 61.83 L242.81 61.73 L243.16 61.64 L243.51 61.54 L243.87 61.45 L244.22 61.36 L244.57 61.27 L244.93 61.18 L245.28 61.09 L245.63 61.01 L245.99 60.93 L246.34 60.84 L246.69 60.77 L247.05 60.69 L247.40 60.61 L247.75 60.54 L248.11 60.47 L248.46 60.40 L248.81 60.33 L249.17 60.27 L249.52 60.20 L249.87 60.14 L250.23 60.07 L250.58 60.01 L250.93 59.94 L251.29 59.88 L251.64 59.81 L251.99 59.75 L252.35 59.69 L252.70 59.62 L253.05 59.56 L253.41 59.49 L253.76 59.43 L254.11 59.37 L254.47 59.31 L254.82 59.25 L255.17 59.19 L255.53 59.13 L255.88 59.07 L256.23 59.02 L256.59 58.96 L256.94 58.90 L257.29 58.85 L257.65 58.80 L258.00 58.75 L258.35 58.70 L258.71 58.65 L259.06 58.60 L259.41 58.56 L259.77 58.51 L260.12 58.47 L260.47 58.43 L260.83 58.39 L261.18 58.36 L261.53 58.32 L261.89 58.29 L262.24 58.26 L262.59 58.23 L262.95 58.20 L263.30 58.18 L263.65 58.16 L264.01 58.14 L264.36 58.12 L264.71 58.11 L265.07 58.09 L265.42 58.08 L265.77 58.07 L266.13 58.06 L266.48 58.05 L266.83 58.04 L267.19 58.03 L267.54 58.02 L267.89 58.00 L268.25 57.99 L268.60 57.98 L268.95 57.97 L269.31 57.96 L269.66 57.95 L270.02 57.94 L270.37 57.93 L270.72 57.92 L271.08 57.91 L271.43 57.90 L271.78 57.90 L272.14 57.89 L272.49 57.88 L272.84 57.87 L273.20 57.86 L273.55 57.85 L273.90 57.84 L274.26 57.83 L274.61 57.83 L274.96 57.82 L275.32 57.81 L275.67 57.80 L276.02 57.80 L276.38 57.79 L276.73 57.78 L277.08 57.77 L277.44 57.77 L277.79 57.76 L278.14 57.75 L278.50 57.74 L278.85 57.74 L279.20 57.73 L279.56 57.72 L279.91 57.72 L280.26 57.71 L280.62 57.71 L280.97 57.70 L281.32 57.69 L281.68 57.69 L282.03 57.68 L282.38 57.68 L282.74 57.67 L283.09 57.67 L283.44 57.66 L283.80 57.65 L284.15 57.65 L284.50 57.64 L284.86 57.64 L285.21 57.63 L285.56 57.63 L285.92 57.62 L286.27 57.62 L286.62 57.62 L286.98 57.61 L287.33 57.61 L287.68 57.60 L288.04 57.60 L288.39 57.59 L288.74 57.59 L289.10 57.59 L289.45 57.58 L289.80 57.58 L290.16 57.58 L290.51 57.57 L290.86 57.57 L291.22 57.56 L291.57 57.56 L291.92 57.56 L292.28 57.55 L292.63 57.55 L292.98 57.55 L293.34 57.55 L293.69 57.54 L294.04 57.54 L294.40 57.54 L294.75 57.53 L295.10 57.53 L295.46 57.53 L295.81 57.53 L296.16 57.52 L296.52 57.52 L296.87 57.52 L297.22 57.52 L297.58 57.51 L297.93 57.51 L298.28 57.51 L298.64 57.51 L298.99 57.51 L299.34 57.50 L299.70 57.50 L300.05 57.50 L300.40 57.50 L300.76 57.50 L301.11 57.49 L301.46 57.49 L301.82 57.49 L302.17 57.49 L302.52 57.49 L302.88 57.49 L303.23 57.48 L303.58 57.48 L303.94 57.48 L304.29 57.48 L304.64 57.48 L305.00 57.47 L305.35 57.47 L305.70 57.47 L306.06 57.47 L306.41 57.47 L306.76 57.47 L307.12 57.46 L307.47 57.46 L307.82 57.46 L308.18 57.46 L308.53 57.46 L308.88 57.46 L309.24 57.45 L309.59 57.45 L309.94 57.45 L310.30 57.45 L310.65 57.45 L311.01 57.45 L311.36 57.45 L311.71 57.44 L312.07 57.44 L312.42 57.44 L312.77 57.44 L313.13 57.44 L313.48 57.44 L313.83 57.44 L314.19 57.43 L314.54 57.43 L314.89 57.43 L315.25 57.43 L315.60 57.43 L315.95 57.43 L316.31 57.43 L316.66 57.43 L317.01 57.42 L317.37 57.42 L317.72 57.42 L318.07 57.42 L318.43 57.42 L318.78 57.42 L319.13 57.42 L319.49 57.42 L319.84 57.42 L320.19 57.42 L320.55 57.41 L320.90 57.41 L321.25 57.41 L321.61 57.41 L321.96 57.41 L322.31 57.41 L322.67 57.41 L323.02 57.41 L323.37 57.41 L323.73 57.41 L324.08 57.41 L324.43 57.41 L324.79 57.41 L325.14 57.41 L325.49 57.40 L325.85 57.40 L326.20 57.40 L326.55 57.40 L326.91 57.40 L327.26 57.40 L327.61 57.40 L327.97 57.40 L328.32 57.40 L328.67 57.40 L329.03 57.40 L329.38 57.40 L329.73 57.40 L330.09 57.40 L330.44 57.40 L330.79 57.40 L331.15 57.40 L331.50 57.40" fill="none" stroke="#f47a22" stroke-width="1.05" stroke-linejoin="round"/>
<path d="M50.6 301.15H86" stroke="#f0545a" stroke-width="1" stroke-opacity="0.85" fill="none"/>
<path d="M85.00 301.15 L85.35 301.15 L85.71 301.15 L86.06 301.13 L86.41 301.09 L86.76 301.04 L87.12 300.97 L87.47 300.89 L87.82 300.80 L88.17 300.70 L88.53 300.60 L88.88 300.49 L89.23 300.39 L89.58 300.28 L89.94 300.16 L90.29 300.02 L90.64 299.87 L90.99 299.72 L91.35 299.55 L91.70 299.37 L92.05 299.18 L92.41 298.98 L92.76 298.78 L93.11 298.56 L93.46 298.34 L93.82 298.12 L94.17 297.89 L94.52 297.65 L94.87 297.39 L95.23 297.13 L95.58 296.85 L95.93 296.56 L96.28 296.27 L96.64 295.96 L96.99 295.64 L97.34 295.31 L97.70 294.97 L98.05 294.62 L98.40 294.26 L98.75 293.90 L99.11 293.52 L99.46 293.14 L99.81 292.74 L100.16 292.34 L100.52 291.93 L100.87 291.52 L101.22 291.09 L101.57 290.66 L101.93 290.22 L102.28 289.78 L102.63 289.32 L102.98 288.86 L103.34 288.40 L103.69 287.93 L104.04 287.45 L104.40 286.97 L104.75 286.48 L105.10 285.99 L105.45 285.49 L105.81 284.99 L106.16 284.48 L106.51 283.94 L106.86 283.38 L107.22 282.79 L107.57 282.19 L107.92 281.57 L108.27 280.94 L108.63 280.28 L108.98 279.61 L109.33 278.93 L109.69 278.23 L110.04 277.53 L110.39 276.81 L110.74 276.08 L111.10 275.34 L111.45 274.60 L111.80 273.85 L112.15 273.09 L112.51 272.33 L112.86 271.56 L113.21 270.80 L113.56 270.03 L113.92 269.26 L114.27 268.50 L114.62 267.73 L114.97 266.96 L115.33 266.18 L115.68 265.38 L116.03 264.57 L116.39 263.75 L116.74 262.92 L117.09 262.09 L117.44 261.24 L117.80 260.39 L118.15 259.53 L118.50 258.66 L118.85 257.79 L119.21 256.91 L119.56 256.02 L119.91 255.14 L120.26 254.24 L120.62 253.35 L120.97 252.45 L121.32 251.55 L121.68 250.65 L122.03 249.75 L122.38 248.85 L122.73 247.94 L123.09 247.04 L123.44 246.14 L123.79 245.25 L124.14 244.35 L124.50 243.46 L124.85 242.57 L125.20 241.69 L125.55 240.81 L125.91 239.94 L126.26 239.07 L126.61 238.21 L126.96 237.36 L127.32 236.51 L127.67 235.66 L128.02 234.82 L128.38 233.98 L128.73 233.14 L129.08 232.30 L129.43 231.47 L129.79 230.64 L130.14 229.80 L130.49 228.97 L130.84 228.15 L131.20 227.32 L131.55 226.49 L131.90 225.66 L132.25 224.84 L132.61 224.01 L132.96 223.18 L133.31 222.35 L133.67 221.52 L134.02 220.69 L134.37 219.86 L134.72 219.03 L135.08 218.20 L135.43 217.36 L135.78 216.52 L136.13 215.68 L136.49 214.84 L136.84 213.99 L137.19 213.15 L137.54 212.29 L137.90 211.44 L138.25 210.58 L138.60 209.72 L138.95 208.85 L139.31 207.98 L139.66 207.10 L140.01 206.22 L140.37 205.33 L140.72 204.43 L141.07 203.52 L141.42 202.61 L141.78 201.69 L142.13 200.77 L142.48 199.84 L142.83 198.91 L143.19 197.98 L143.54 197.04 L143.89 196.10 L144.24 195.15 L144.60 194.21 L144.95 193.27 L145.30 192.32 L145.66 191.38 L146.01 190.43 L146.36 189.49 L146.71 188.55 L147.07 187.61 L147.42 186.68 L147.77 185.75 L148.12 184.82 L148.48 183.90 L148.83 182.98 L149.18 182.07 L149.53 181.17 L149.89 180.27 L150.24 179.38 L150.59 178.50 L150.94 177.63 L151.30 176.76 L151.65 175.90 L152.00 175.05 L152.36 174.19 L152.71 173.34 L153.06 172.49 L153.41 171.64 L153.77 170.80 L154.12 169.96 L154.47 169.12 L154.82 168.29 L155.18 167.45 L155.53 166.63 L155.88 165.80 L156.23 164.98 L156.59 164.15 L156.94 163.34 L157.29 162.52 L157.65 161.71 L158.00 160.90 L158.35 160.10 L158.70 159.29 L159.06 158.49 L159.41 157.70 L159.76 156.91 L160.11 156.12 L160.47 155.33 L160.82 154.55 L161.17 153.77 L161.52 152.99 L161.88 152.22 L162.23 151.45 L162.58 150.68 L162.93 149.92 L163.29 149.16 L163.64 148.40 L163.99 147.65 L164.35 146.90 L164.70 146.16 L165.05 145.41 L165.40 144.67 L165.76 143.92 L166.11 143.18 L166.46 142.44 L166.81 141.70 L167.17 140.96 L167.52 140.22 L167.87 139.48 L168.22 138.75 L168.58 138.02 L168.93 137.29 L169.28 136.56 L169.64 135.83 L169.99 135.11 L170.34 134.39 L170.69 133.67 L171.05 132.96 L171.40 132.25 L171.75 131.54 L172.10 130.83 L172.46 130.13 L172.81 129.43 L173.16 128.74 L173.51 128.05 L173.87 127.36 L174.22 126.68 L174.57 126.00 L174.92 125.32 L175.28 124.65 L175.63 123.99 L175.98 123.33 L176.34 122.67 L176.69 122.02 L177.04 121.37 L177.39 120.73 L177.75 120.10 L178.10 119.47 L178.45 118.84 L178.80 118.22 L179.16 117.61 L179.51 117.00 L179.86 116.40 L180.21 115.81 L180.57 115.22 L180.92 114.63 L181.27 114.05 L181.63 113.47 L181.98 112.89 L182.33 112.32 L182.68 111.75 L183.04 111.18 L183.39 110.62 L183.74 110.06 L184.09 109.50 L184.45 108.95 L184.80 108.40 L185.15 107.85 L185.50 107.31 L185.86 106.77 L186.21 106.24 L186.56 105.71 L186.91 105.18 L187.27 104.65 L187.62 104.13 L187.97 103.61 L188.33 103.10 L188.68 102.59 L189.03 102.08 L189.38 101.57 L189.74 101.07 L190.09 100.58 L190.44 100.08 L190.79 99.59 L191.15 99.10 L191.50 98.62 L191.85 98.14 L192.20 97.66 L192.56 97.19 L192.91 96.72 L193.26 96.25 L193.62 95.79 L193.97 95.33 L194.32 94.87 L194.67 94.42 L195.03 93.97 L195.38 93.52 L195.73 93.08 L196.08 92.63 L196.44 92.19 L196.79 91.76 L197.14 91.32 L197.49 90.89 L197.85 90.47 L198.20 90.04 L198.55 89.62 L198.90 89.21 L199.26 88.79 L199.61 88.38 L199.96 87.98 L200.32 87.58 L200.67 87.18 L201.02 86.79 L201.37 86.40 L201.73 86.02 L202.08 85.64 L202.43 85.27 L202.78 84.91 L203.14 84.54 L203.49 84.19 L203.84 83.84 L204.19 83.49 L204.55 83.15 L204.90 82.82 L205.25 82.49 L205.61 82.17 L205.96 81.85 L206.31 81.54 L206.66 81.24 L207.02 80.93 L207.37 80.64 L207.72 80.34 L208.07 80.05 L208.43 79.77 L208.78 79.48 L209.13 79.20 L209.48 78.92 L209.84 78.65 L210.19 78.37 L210.54 78.09 L210.89 77.82 L211.25 77.55 L211.60 77.27 L211.95 77.00 L212.31 76.72 L212.66 76.45 L213.01 76.17 L213.36 75.89 L213.72 75.61 L214.07 75.32 L214.42 75.04 L214.77 74.75 L215.13 74.46 L215.48 74.17 L215.83 73.88 L216.18 73.59 L216.54 73.30 L216.89 73.01 L217.24 72.72 L217.60 72.43 L217.95 72.14 L218.30 71.86 L218.65 71.58 L219.01 71.30 L219.36 71.02 L219.71 70.75 L220.06 70.48 L220.42 70.22 L220.77 69.96 L221.12 69.70 L221.47 69.45 L221.83 69.21 L222.18 68.97 L222.53 68.74 L222.88 68.52 L223.24 68.29 L223.59 68.07 L223.94 67.85 L224.30 67.63 L224.65 67.41 L225.00 67.20 L225.35 66.98 L225.71 66.77 L226.06 66.57 L226.41 66.36 L226.76 66.16 L227.12 65.96 L227.47 65.77 L227.82 65.58 L228.17 65.39 L228.53 65.21 L228.88 65.03 L229.23 64.86 L229.59 64.69 L229.94 64.52 L230.29 64.36 L230.64 64.21 L231.00 64.06 L231.35 63.92 L231.70 63.78 L232.05 63.65 L232.41 63.52 L232.76 63.39 L233.11 63.26 L233.46 63.14 L233.82 63.02 L234.17 62.90 L234.52 62.78 L234.87 62.67 L235.23 62.56 L235.58 62.45 L235.93 62.34 L236.29 62.23 L236.64 62.13 L236.99 62.03 L237.34 61.93 L237.70 61.84 L238.05 61.74 L238.40 61.65 L238.75 61.56 L239.11 61.47 L239.46 61.38 L239.81 61.29 L240.16 61.21 L240.52 61.13 L240.87 61.04 L241.22 60.96 L241.58 60.89 L241.93 60.81 L242.28 60.73 L242.63 60.66 L242.99 60.59 L243.34 60.52 L243.69 60.45 L244.04 60.38 L244.40 60.31 L244.75 60.24 L245.10 60.18 L245.45 60.11 L245.81 60.05 L246.16 59.98 L246.51 59.92 L246.86 59.86 L247.22 59.80 L247.57 59.74 L247.92 59.68 L248.28 59.62 L248.63 59.56 L248.98 59.50 L249.33 59.45 L249.69 59.39 L250.04 59.33 L250.39 59.27 L250.74 59.21 L251.10 59.15 L251.45 59.09 L251.80 59.04 L252.15 58.98 L252.51 58.92 L252.86 58.86 L253.21 58.80 L253.57 58.75 L253.92 58.69 L254.27 58.63 L254.62 58.57 L254.98 58.52 L255.33 58.46 L255.68 58.41 L256.03 58.35 L256.39 58.30 L256.74 58.24 L257.09 58.19 L257.44 58.14 L257.80 58.09 L258.15 58.04 L258.50 57.99 L258.85 57.94 L259.21 57.89 L259.56 57.85 L259.91 57.80 L260.27 57.76 L260.62 57.71 L260.97 57.67 L261.32 57.63 L261.68 57.59 L262.03 57.55 L262.38 57.52 L262.73 57.48 L263.09 57.45 L263.44 57.42 L263.79 57.39 L264.14 57.36 L264.50 57.33 L264.85 57.30 L265.20 57.28 L265.56 57.25 L265.91 57.23 L266.26 57.21 L266.61 57.18 L266.97 57.16 L267.32 57.13 L267.67 57.11 L268.02 57.09 L268.38 57.06 L268.73 57.04 L269.08 57.02 L269.43 57.00 L269.79 56.97 L270.14 56.95 L270.49 56.93 L270.84 56.91 L271.20 56.89 L271.55 56.86 L271.90 56.84 L272.26 56.82 L272.61 56.80 L272.96 56.78 L273.31 56.76 L273.67 56.74 L274.02 56.72 L274.37 56.70 L274.72 56.68 L275.08 56.66 L275.43 56.64 L275.78 56.62 L276.13 56.60 L276.49 56.58 L276.84 56.56 L277.19 56.54 L277.55 56.53 L277.90 56.51 L278.25 56.49 L278.60 56.47 L278.96 56.45 L279.31 56.44 L279.66 56.42 L280.01 56.40 L280.37 56.39 L280.72 56.37 L281.07 56.35 L281.42 56.34 L281.78 56.32 L282.13 56.31 L282.48 56.29 L282.83 56.27 L283.19 56.26 L283.54 56.24 L283.89 56.23 L284.25 56.21 L284.60 56.20 L284.95 56.19 L285.30 56.17 L285.66 56.16 L286.01 56.15 L286.36 56.13 L286.71 56.12 L287.07 56.11 L287.42 56.09 L287.77 56.08 L288.12 56.07 L288.48 56.06 L288.83 56.05 L289.18 56.03 L289.54 56.02 L289.89 56.01 L290.24 56.00 L290.59 55.99 L290.95 55.98 L291.30 55.97 L291.65 55.96 L292.00 55.95 L292.36 55.94 L292.71 55.93 L293.06 55.92 L293.41 55.92 L293.77 55.91 L294.12 55.90 L294.47 55.89 L294.82 55.88 L295.18 55.88 L295.53 55.87 L295.88 55.86 L296.24 55.86 L296.59 55.85 L296.94 55.84 L297.29 55.84 L297.65 55.83 L298.00 55.83 L298.35 55.82 L298.70 55.82 L299.06 55.81 L299.41 55.81 L299.76 55.80 L300.11 55.80 L300.47 55.79 L300.82 55.79 L301.17 55.79 L301.53 55.78 L301.88 55.78 L302.23 55.78 L302.58 55.77 L302.94 55.77 L303.29 55.77 L303.64 55.76 L303.99 55.76 L304.35 55.75 L304.70 55.75 L305.05 55.75 L305.40 55.74 L305.76 55.74 L306.11 55.74 L306.46 55.73 L306.81 55.73 L307.17 55.73 L307.52 55.72 L307.87 55.72 L308.23 55.72 L308.58 55.71 L308.93 55.71 L309.28 55.71 L309.64 55.70 L309.99 55.70 L310.34 55.70 L310.69 55.70 L311.05 55.69 L311.40 55.69 L311.75 55.69 L312.10 55.68 L312.46 55.68 L312.81 55.68 L313.16 55.68 L313.52 55.67 L313.87 55.67 L314.22 55.67 L314.57 55.67 L314.93 55.66 L315.28 55.66 L315.63 55.66 L315.98 55.66 L316.34 55.65 L316.69 55.65 L317.04 55.65 L317.39 55.65 L317.75 55.64 L318.10 55.64 L318.45 55.64 L318.80 55.64 L319.16 55.64 L319.51 55.63 L319.86 55.63 L320.22 55.63 L320.57 55.63 L320.92 55.63 L321.27 55.63 L321.63 55.62 L321.98 55.62 L322.33 55.62 L322.68 55.62 L323.04 55.62 L323.39 55.62 L323.74 55.61 L324.09 55.61 L324.45 55.61 L324.80 55.61 L325.15 55.61 L325.51 55.61 L325.86 55.61 L326.21 55.61 L326.56 55.61 L326.92 55.61 L327.27 55.60 L327.62 55.60 L327.97 55.60 L328.33 55.60 L328.68 55.60 L329.03 55.60 L329.38 55.60 L329.74 55.60 L330.09 55.60 L330.44 55.60 L330.79 55.60 L331.15 55.60 L331.50 55.60" fill="none" stroke="#ee1616" stroke-width="1.1" stroke-linejoin="round"/>
<text x="0.5" y="18.9" font-family='"Liberation Serif", serif' font-size="26.2" fill="#222">a)</text>
<text x="57" y="228.6" font-size="9"><tspan font-style="italic">p</tspan><tspan font-size="6.5" dy="3.4">start</tspan><tspan dy="-3.4"> / bar</tspan></text>
<path d="M56.3 245.2H69.2" stroke="#b5b52e" stroke-width="1.2"/>
<text x="71.6" y="248.29999999999998" font-size="8.8">500</text>
<path d="M56.3 253.2H69.2" stroke="#f4a428" stroke-width="1.2"/>
<text x="71.6" y="256.3" font-size="8.8">1000</text>
<path d="M56.3 261.2H69.2" stroke="#f47a22" stroke-width="1.2"/>
<text x="71.6" y="264.3" font-size="8.8">1500</text>
<path d="M56.3 269.2H69.2" stroke="#ee1616" stroke-width="1.2"/>
<text x="71.6" y="272.3" font-size="8.8">2000</text>
<text x="270.2" y="76.7" font-size="10.5" font-weight="bold"><tspan font-style="italic">p</tspan><tspan font-size="8" dy="2.4">end</tspan><tspan dy="-2.4"> = 1 bar</tspan></text>
<text x="58.8" y="312.7" font-size="10.8" font-weight="bold"><tspan font-style="italic">p</tspan><tspan font-size="8" dy="3.5">start</tspan></text>
<rect x="400.4" y="30.55" width="280.6" height="293.65" fill="none" stroke="#000" stroke-width="1.6"/>
<path d="M425.91 324.2v-5.8M425.91 30.55v5.8M476.93 324.2v-5.8M476.93 30.55v5.8M527.95 324.2v-5.8M527.95 30.55v5.8M578.96 324.2v-5.8M578.96 30.55v5.8M629.98 324.2v-5.8M629.98 30.55v5.8M451.42 324.2v-3.0M451.42 30.55v3.0M502.44 324.2v-3.0M502.44 30.55v3.0M553.45 324.2v-3.0M553.45 30.55v3.0M604.47 324.2v-3.0M604.47 30.55v3.0M655.49 324.2v-3.0M655.49 30.55v3.0M400.4 299.73h5.8M681.0 299.73h-5.8M400.4 177.38h5.8M681.0 177.38h-5.8M400.4 55.02h5.8M681.0 55.02h-5.8M400.4 238.55h3.0M681.0 238.55h-3.0M400.4 116.20h3.0M681.0 116.20h-3.0" stroke="#000" stroke-width="1.6" fill="none"/>
<text x="425.91" y="339.60" font-size="11" text-anchor="middle">0</text>
<text x="476.93" y="339.60" font-size="11" text-anchor="middle">1</text>
<text x="527.95" y="339.60" font-size="11" text-anchor="middle">2</text>
<text x="578.96" y="339.60" font-size="11" text-anchor="middle">3</text>
<text x="629.98" y="339.60" font-size="11" text-anchor="middle">4</text>
<text x="681.00" y="339.60" font-size="11" text-anchor="middle">5</text>
<text x="393.50" y="303.43" font-size="11" text-anchor="end">0.0</text>
<text x="393.50" y="181.08" font-size="11" text-anchor="end">0.5</text>
<text x="393.50" y="58.72" font-size="11" text-anchor="end">1.0</text>
<text x="540.70" y="360.2" font-size="12.4" text-anchor="middle"><tspan font-style="italic">t /</tspan> s</text>
<text transform="translate(363.3 178.4) rotate(-90)" font-size="12.4" text-anchor="middle">Normalized absorbance</text>
<path d="M440.96 206.36V209.16M438.96 206.36h4.0M438.96 209.16h4.0M446.06 228.74V231.54M444.06 228.74h4.0M444.06 231.54h4.0M451.16 244.50V247.30M449.16 244.50h4.0M449.16 247.30h4.0M456.26 258.66V261.46M454.26 258.66h4.0M454.26 261.46h4.0M461.37 267.64V270.44M459.37 267.64h4.0M459.37 270.44h4.0M466.47 273.50V276.30M464.47 273.50h4.0M464.47 276.30h4.0M471.57 277.79V280.59M469.57 277.79h4.0M469.57 280.59h4.0M476.67 281.94V284.74M474.67 281.94h4.0M474.67 284.74h4.0M481.77 285.09V287.89M479.77 285.09h4.0M479.77 287.89h4.0M486.88 287.28V290.08M484.88 287.28h4.0M484.88 290.08h4.0M491.98 288.93V291.73M489.98 288.93h4.0M489.98 291.73h4.0M497.08 290.24V293.04M495.08 290.24h4.0M495.08 293.04h4.0M502.18 291.08V293.88M500.18 291.08h4.0M500.18 293.88h4.0M507.28 291.70V294.50M505.28 291.70h4.0M505.28 294.50h4.0M512.38 292.19V294.99M510.38 292.19h4.0M510.38 294.99h4.0M517.49 292.60V295.40M515.49 292.60h4.0M515.49 295.40h4.0M522.59 292.99V295.79M520.59 292.99h4.0M520.59 295.79h4.0M527.69 293.35V296.15M525.69 293.35h4.0M525.69 296.15h4.0M532.79 293.69V296.49M530.79 293.69h4.0M530.79 296.49h4.0M537.89 293.99V296.79M535.89 293.99h4.0M535.89 296.79h4.0M543.00 294.27V297.07M541.00 294.27h4.0M541.00 297.07h4.0M548.10 294.51V297.31M546.10 294.51h4.0M546.10 297.31h4.0M553.20 294.71V297.51M551.20 294.71h4.0M551.20 297.51h4.0M558.30 294.86V297.66M556.30 294.86h4.0M556.30 297.66h4.0M563.40 294.97V297.77M561.40 294.97h4.0M561.40 297.77h4.0M568.50 295.07V297.87M566.50 295.07h4.0M566.50 297.87h4.0M573.61 295.16V297.96M571.61 295.16h4.0M571.61 297.96h4.0M578.71 295.25V298.05M576.71 295.25h4.0M576.71 298.05h4.0M583.81 295.32V298.12M581.81 295.32h4.0M581.81 298.12h4.0M588.91 295.39V298.19M586.91 295.39h4.0M586.91 298.19h4.0M594.01 295.45V298.25M592.01 295.45h4.0M592.01 298.25h4.0M599.12 295.50V298.30M597.12 295.50h4.0M597.12 298.30h4.0M604.22 295.56V298.36M602.22 295.56h4.0M602.22 298.36h4.0M609.32 295.60V298.40M607.32 295.60h4.0M607.32 298.40h4.0M614.42 295.65V298.45M612.42 295.65h4.0M612.42 298.45h4.0M619.52 295.70V298.50M617.52 295.70h4.0M617.52 298.50h4.0M624.62 295.74V298.54M622.62 295.74h4.0M622.62 298.54h4.0M629.73 295.78V298.58M627.73 295.78h4.0M627.73 298.58h4.0M634.83 295.83V298.63M632.83 295.83h4.0M632.83 298.63h4.0M639.93 295.87V298.67M637.93 295.87h4.0M637.93 298.67h4.0M645.03 295.90V298.70M643.03 295.90h4.0M643.03 298.70h4.0M650.13 295.94V298.74M648.13 295.94h4.0M648.13 298.74h4.0M655.24 295.97V298.77M653.24 295.97h4.0M653.24 298.77h4.0M660.34 296.01V298.81M658.34 296.01h4.0M658.34 298.81h4.0M665.44 296.03V298.83M663.44 296.03h4.0M663.44 298.83h4.0M670.54 296.06V298.86M668.54 296.06h4.0M668.54 298.86h4.0M675.64 296.08V298.88M673.64 296.08h4.0M673.64 298.88h4.0M680.74 296.10V298.90M678.74 296.10h4.0M678.74 298.90h4.0" fill="none" stroke="#86a84e" stroke-width="0.7" stroke-opacity="0.6"/>
<path d="M430.76 76.46V120.86M428.36 76.46h4.8M428.36 120.86h4.8" fill="none" stroke="#9ab86a" stroke-width="0.7" stroke-opacity="0.6"/>
<path d="M430.76 64.30V123.70M428.16 64.30h5.2M428.16 123.70h5.2" fill="none" stroke="#f3c878" stroke-width="0.7" stroke-opacity="0.7"/>
<path d="M435.86 165.39V179.39M433.46 165.39h4.8M433.46 179.39h4.8" fill="none" stroke="#f3c060" stroke-width="0.7" stroke-opacity="0.6"/>
<path d="M440.96 207.41V217.41M438.76 207.41h4.4M438.76 217.41h4.4M446.06 233.68V243.68M443.86 233.68h4.4M443.86 243.68h4.4M451.16 250.87V260.87M448.96 250.87h4.4M448.96 260.87h4.4M456.26 264.64V274.64M454.06 264.64h4.4M454.06 274.64h4.4" fill="none" stroke="#f3b850" stroke-width="0.7" stroke-opacity="0.6"/>
<path d="M461.37 278.76V281.16M459.37 278.76h4.0M459.37 281.16h4.0M466.47 284.15V286.55M464.47 284.15h4.0M464.47 286.55h4.0M471.57 288.24V290.64M469.57 288.24h4.0M469.57 290.64h4.0M476.67 291.17V293.57M474.67 291.17h4.0M474.67 293.57h4.0M481.77 293.21V295.61M479.77 293.21h4.0M479.77 295.61h4.0M486.88 294.47V296.87M484.88 294.47h4.0M484.88 296.87h4.0M491.98 295.41V297.81M489.98 295.41h4.0M489.98 297.81h4.0M497.08 296.19V298.59M495.08 296.19h4.0M495.08 298.59h4.0M502.18 296.68V299.08M500.18 296.68h4.0M500.18 299.08h4.0M507.28 297.06V299.46M505.28 297.06h4.0M505.28 299.46h4.0M512.38 297.33V299.73M510.38 297.33h4.0M510.38 299.73h4.0M517.49 297.45V299.85M515.49 297.45h4.0M515.49 299.85h4.0M522.59 297.55V299.95M520.59 297.55h4.0M520.59 299.95h4.0M527.69 297.63V300.03M525.69 297.63h4.0M525.69 300.03h4.0M532.79 297.70V300.10M530.79 297.70h4.0M530.79 300.10h4.0M537.89 297.76V300.16M535.89 297.76h4.0M535.89 300.16h4.0M543.00 297.80V300.20M541.00 297.80h4.0M541.00 300.20h4.0M548.10 297.84V300.24M546.10 297.84h4.0M546.10 300.24h4.0M553.20 297.87V300.27M551.20 297.87h4.0M551.20 300.27h4.0M558.30 297.89V300.29M556.30 297.89h4.0M556.30 300.29h4.0M563.40 297.91V300.31M561.40 297.91h4.0M561.40 300.31h4.0M568.50 297.93V300.33M566.50 297.93h4.0M566.50 300.33h4.0M573.61 297.94V300.34M571.61 297.94h4.0M571.61 300.34h4.0M578.71 297.96V300.36M576.71 297.96h4.0M576.71 300.36h4.0M583.81 297.97V300.37M581.81 297.97h4.0M581.81 300.37h4.0M588.91 297.98V300.38M586.91 297.98h4.0M586.91 300.38h4.0M594.01 298.00V300.40M592.01 298.00h4.0M592.01 300.40h4.0M599.12 298.01V300.41M597.12 298.01h4.0M597.12 300.41h4.0M604.22 298.02V300.42M602.22 298.02h4.0M602.22 300.42h4.0M609.32 298.03V300.43M607.32 298.03h4.0M607.32 300.43h4.0M614.42 298.04V300.44M612.42 298.04h4.0M612.42 300.44h4.0M619.52 298.05V300.45M617.52 298.05h4.0M617.52 300.45h4.0M624.62 298.06V300.46M622.62 298.06h4.0M622.62 300.46h4.0M629.73 298.06V300.46M627.73 298.06h4.0M627.73 300.46h4.0M634.83 298.07V300.47M632.83 298.07h4.0M632.83 300.47h4.0M639.93 298.08V300.48M637.93 298.08h4.0M637.93 300.48h4.0M645.03 298.08V300.48M643.03 298.08h4.0M643.03 300.48h4.0M650.13 298.09V300.49M648.13 298.09h4.0M648.13 300.49h4.0M655.24 298.09V300.49M653.24 298.09h4.0M653.24 300.49h4.0M660.34 298.09V300.49M658.34 298.09h4.0M658.34 300.49h4.0M665.44 298.10V300.50M663.44 298.10h4.0M663.44 300.50h4.0M670.54 298.10V300.50M668.54 298.10h4.0M668.54 300.50h4.0M675.64 298.10V300.50M673.64 298.10h4.0M673.64 300.50h4.0M680.74 298.10V300.50M678.74 298.10h4.0M678.74 300.50h4.0" fill="none" stroke="#f3b050" stroke-width="0.7" stroke-opacity="0.55"/>
<path d="M430.76 170.48V174.48M428.16 170.48h5.2M428.16 174.48h5.2M435.86 213.52V217.52M433.26 213.52h5.2M433.26 217.52h5.2M440.96 235.85V239.85M438.36 235.85h5.2M438.36 239.85h5.2M446.06 251.36V255.36M443.46 251.36h5.2M443.46 255.36h5.2M451.16 262.78V266.78M448.56 262.78h5.2M448.56 266.78h5.2M456.26 269.31V273.31M453.66 269.31h5.2M453.66 273.31h5.2M461.37 274.67V278.67M458.77 274.67h5.2M458.77 278.67h5.2M466.47 279.13V283.13M463.87 279.13h5.2M463.87 283.13h5.2M471.57 282.86V286.86M468.97 282.86h5.2M468.97 286.86h5.2M476.67 285.77V289.77M474.07 285.77h5.2M474.07 289.77h5.2M481.77 288.04V292.04M479.17 288.04h5.2M479.17 292.04h5.2M486.88 289.75V293.75M484.28 289.75h5.2M484.28 293.75h5.2" fill="none" stroke="#f0605c" stroke-width="0.7" stroke-opacity="0.65"/>
<path d="M491.98 292.37V294.37M489.98 292.37h4.0M489.98 294.37h4.0M497.08 293.24V295.24M495.08 293.24h4.0M495.08 295.24h4.0M502.18 293.88V295.88M500.18 293.88h4.0M500.18 295.88h4.0M507.28 294.40V296.40M505.28 294.40h4.0M505.28 296.40h4.0M512.38 294.83V296.83M510.38 294.83h4.0M510.38 296.83h4.0M517.49 295.16V297.16M515.49 295.16h4.0M515.49 297.16h4.0M522.59 295.47V297.47M520.59 295.47h4.0M520.59 297.47h4.0M527.69 295.76V297.76M525.69 295.76h4.0M525.69 297.76h4.0M532.79 296.02V298.02M530.79 296.02h4.0M530.79 298.02h4.0M537.89 296.26V298.26M535.89 296.26h4.0M535.89 298.26h4.0M543.00 296.48V298.48M541.00 296.48h4.0M541.00 298.48h4.0M548.10 296.67V298.67M546.10 296.67h4.0M546.10 298.67h4.0M553.20 296.83V298.83M551.20 296.83h4.0M551.20 298.83h4.0M558.30 296.96V298.96M556.30 296.96h4.0M556.30 298.96h4.0M563.40 297.07V299.07M561.40 297.07h4.0M561.40 299.07h4.0M568.50 297.17V299.17M566.50 297.17h4.0M566.50 299.17h4.0M573.61 297.25V299.25M571.61 297.25h4.0M571.61 299.25h4.0M578.71 297.34V299.34M576.71 297.34h4.0M576.71 299.34h4.0M583.81 297.41V299.41M581.81 297.41h4.0M581.81 299.41h4.0M588.91 297.48V299.48M586.91 297.48h4.0M586.91 299.48h4.0M594.01 297.54V299.54M592.01 297.54h4.0M592.01 299.54h4.0M599.12 297.60V299.60M597.12 297.60h4.0M597.12 299.60h4.0M604.22 297.65V299.65M602.22 297.65h4.0M602.22 299.65h4.0M609.32 297.70V299.70M607.32 297.70h4.0M607.32 299.70h4.0M614.42 297.75V299.75M612.42 297.75h4.0M612.42 299.75h4.0M619.52 297.80V299.80M617.52 297.80h4.0M617.52 299.80h4.0M624.62 297.84V299.84M622.62 297.84h4.0M622.62 299.84h4.0M629.73 297.88V299.88M627.73 297.88h4.0M627.73 299.88h4.0M634.83 297.93V299.93M632.83 297.93h4.0M632.83 299.93h4.0M639.93 297.97V299.97M637.93 297.97h4.0M637.93 299.97h4.0M645.03 298.00V300.00M643.03 298.00h4.0M643.03 300.00h4.0M650.13 298.04V300.04M648.13 298.04h4.0M648.13 300.04h4.0M655.24 298.07V300.07M653.24 298.07h4.0M653.24 300.07h4.0M660.34 298.11V300.11M658.34 298.11h4.0M658.34 300.11h4.0M665.44 298.13V300.13M663.44 298.13h4.0M663.44 300.13h4.0M670.54 298.16V300.16M668.54 298.16h4.0M668.54 300.16h4.0M675.64 298.18V300.18M673.64 298.18h4.0M673.64 300.18h4.0M680.74 298.20V300.20M678.74 298.20h4.0M678.74 300.20h4.0" fill="none" stroke="#f0705c" stroke-width="0.7" stroke-opacity="0.5"/>
<path d="M425.61 55.20V56.80M424.11 55.20h3.0M424.11 56.80h3.0M420.51 55.20V56.80M419.01 55.20h3.0M419.01 56.80h3.0M415.41 55.20V56.80M413.91 55.20h3.0M413.91 56.80h3.0M410.30 55.20V56.80M408.80 55.20h3.0M408.80 56.80h3.0M405.20 55.20V56.80M403.70 55.20h3.0M403.70 56.80h3.0" fill="none" stroke="#f0703c" stroke-width="0.7" stroke-opacity="0.5"/>
<path d="M425 56H428.8M425.8 54.3V57.7" stroke="#f0703c" stroke-width="0.9" fill="none"/>
<path d="M400.40 56.00 L400.63 56.00 L400.87 56.00 L401.10 56.00 L401.33 56.00 L401.56 56.00 L401.80 56.00 L402.03 56.00 L402.26 56.00 L402.49 56.00 L402.73 56.00 L402.96 56.00 L403.19 56.00 L403.43 56.00 L403.66 56.00 L403.89 56.00 L404.12 56.00 L404.36 56.00 L404.59 56.00 L404.82 56.00 L405.06 56.00 L405.29 56.00 L405.52 56.00 L405.75 56.00 L405.99 56.00 L406.22 56.00 L406.45 56.00 L406.68 56.00 L406.92 56.00 L407.15 56.00 L407.38 56.00 L407.62 56.00 L407.85 56.00 L408.08 56.00 L408.31 56.00 L408.55 56.00 L408.78 56.00 L409.01 56.00 L409.25 56.00 L409.48 56.00 L409.71 56.00 L409.94 56.00 L410.18 56.00 L410.41 56.00 L410.64 56.00 L410.87 56.00 L411.11 56.00 L411.34 56.00 L411.57 56.00 L411.81 56.00 L412.04 56.00 L412.27 56.00 L412.50 56.00 L412.74 56.00 L412.97 56.00 L413.20 56.00 L413.44 56.00 L413.67 56.00 L413.90 56.00 L414.13 56.00 L414.37 56.00 L414.60 56.00 L414.83 56.00 L415.06 56.00 L415.30 56.00 L415.53 56.00 L415.76 56.00 L416.00 56.00 L416.23 56.00 L416.46 56.00 L416.69 56.00 L416.93 56.00 L417.16 56.00 L417.39 56.00 L417.63 56.00 L417.86 56.00 L418.09 56.00 L418.32 56.00 L418.56 56.00 L418.79 56.00 L419.02 56.00 L419.25 56.00 L419.49 56.00 L419.72 56.00 L419.95 56.00 L420.19 56.00 L420.42 56.00 L420.65 56.00 L420.88 56.00 L421.12 56.00 L421.35 56.00 L421.58 56.00 L421.82 56.00 L422.05 56.00 L422.28 56.00 L422.51 56.00 L422.75 56.00 L422.98 56.00 L423.21 56.00 L423.44 56.00 L423.68 56.00 L423.91 56.00 L424.14 56.00 L424.38 56.00 L424.61 56.00 L424.84 56.00 L425.07 56.00 L425.31 56.00 L425.54 56.00 L425.77 56.41 L426.01 59.25 L426.24 62.25 L426.47 65.56 L426.70 69.11 L426.94 72.85 L427.17 76.73 L427.40 80.67 L427.63 84.63 L427.87 88.56 L428.10 92.38 L428.33 96.05 L428.57 99.51 L428.80 102.80 L429.03 106.07 L429.26 109.29 L429.50 112.47 L429.73 115.58 L429.96 118.63 L430.20 121.60 L430.43 124.48 L430.66 127.26 L430.89 129.93 L431.13 132.50 L431.36 135.02 L431.59 137.47 L431.82 139.87 L432.06 142.21 L432.29 144.50 L432.52 146.74 L432.76 148.94 L432.99 151.09 L433.22 153.20 L433.45 155.28 L433.69 157.31 L433.92 159.32 L434.15 161.29 L434.39 163.24 L434.62 165.16 L434.85 167.05 L435.08 168.92 L435.32 170.76 L435.55 172.57 L435.78 174.35 L436.01 176.11 L436.25 177.84 L436.48 179.55 L436.71 181.22 L436.95 182.87 L437.18 184.49 L437.41 186.09 L437.64 187.66 L437.88 189.20 L438.11 190.71 L438.34 192.22 L438.58 193.72 L438.81 195.21 L439.04 196.68 L439.27 198.15 L439.51 199.60 L439.74 201.04 L439.97 202.46 L440.20 203.86 L440.44 205.24 L440.67 206.61 L440.90 207.94 L441.14 209.26 L441.37 210.54 L441.60 211.80 L441.83 213.03 L442.07 214.23 L442.30 215.40 L442.53 216.53 L442.77 217.62 L443.00 218.68 L443.23 219.70 L443.46 220.69 L443.70 221.66 L443.93 222.61 L444.16 223.55 L444.39 224.47 L444.63 225.37 L444.86 226.26 L445.09 227.14 L445.33 228.00 L445.56 228.85 L445.79 229.69 L446.02 230.51 L446.26 231.32 L446.49 232.12 L446.72 232.91 L446.96 233.69 L447.19 234.46 L447.42 235.21 L447.65 235.96 L447.89 236.70 L448.12 237.43 L448.35 238.15 L448.58 238.87 L448.82 239.58 L449.05 240.28 L449.28 240.97 L449.52 241.66 L449.75 242.34 L449.98 243.02 L450.21 243.70 L450.45 244.37 L450.68 245.03 L450.91 245.69 L451.15 246.35 L451.38 247.01 L451.61 247.67 L451.84 248.32 L452.08 248.97 L452.31 249.62 L452.54 250.28 L452.77 250.93 L453.01 251.58 L453.24 252.24 L453.47 252.90 L453.71 253.56 L453.94 254.22 L454.17 254.88 L454.40 255.54 L454.64 256.19 L454.87 256.84 L455.10 257.48 L455.34 258.11 L455.57 258.74 L455.80 259.36 L456.03 259.97 L456.27 260.56 L456.50 261.15 L456.73 261.72 L456.96 262.27 L457.20 262.81 L457.43 263.33 L457.66 263.84 L457.90 264.32 L458.13 264.79 L458.36 265.23 L458.59 265.65 L458.83 266.04 L459.06 266.42 L459.29 266.78 L459.53 267.13 L459.76 267.47 L459.99 267.80 L460.22 268.11 L460.46 268.42 L460.69 268.71 L460.92 269.00 L461.15 269.29 L461.39 269.56 L461.62 269.83 L461.85 270.10 L462.09 270.36 L462.32 270.63 L462.55 270.89 L462.78 271.15 L463.02 271.41 L463.25 271.67 L463.48 271.93 L463.72 272.20 L463.95 272.47 L464.18 272.74 L464.41 273.02 L464.65 273.29 L464.88 273.56 L465.11 273.83 L465.34 274.10 L465.58 274.37 L465.81 274.64 L466.04 274.91 L466.28 275.18 L466.51 275.45 L466.74 275.71 L466.97 275.98 L467.21 276.24 L467.44 276.50 L467.67 276.76 L467.91 277.02 L468.14 277.28 L468.37 277.53 L468.60 277.79 L468.84 278.04 L469.07 278.29 L469.30 278.53 L469.53 278.78 L469.77 279.02 L470.00 279.26 L470.71 279.96 L471.41 280.64 L472.12 281.28 L472.82 281.89 L473.53 282.48 L474.23 283.06 L474.94 283.62 L475.65 284.17 L476.35 284.70 L477.06 285.22 L477.76 285.71 L478.47 286.18 L479.17 286.64 L479.88 287.06 L480.59 287.47 L481.29 287.84 L482.00 288.20 L482.70 288.54 L483.41 288.86 L484.11 289.18 L484.82 289.48 L485.53 289.76 L486.23 290.04 L486.94 290.30 L487.64 290.56 L488.35 290.80 L489.05 291.04 L489.76 291.26 L490.46 291.48 L491.17 291.69 L491.88 291.90 L492.58 292.11 L493.29 292.31 L493.99 292.50 L494.70 292.69 L495.40 292.86 L496.11 293.03 L496.82 293.19 L497.52 293.33 L498.23 293.47 L498.93 293.59 L499.64 293.70 L500.34 293.81 L501.05 293.92 L501.76 294.02 L502.46 294.11 L503.17 294.21 L503.87 294.30 L504.58 294.39 L505.28 294.47 L505.99 294.56 L506.70 294.64 L507.40 294.71 L508.11 294.79 L508.81 294.86 L509.52 294.93 L510.22 295.00 L510.93 295.06 L511.64 295.13 L512.34 295.19 L513.05 295.25 L513.75 295.31 L514.46 295.36 L515.16 295.42 L515.87 295.48 L516.58 295.53 L517.28 295.59 L517.99 295.64 L518.69 295.69 L519.40 295.75 L520.10 295.80 L520.81 295.85 L521.52 295.91 L522.22 295.96 L522.93 296.01 L523.63 296.06 L524.34 296.11 L525.04 296.16 L525.75 296.21 L526.45 296.26 L527.16 296.31 L527.87 296.36 L528.57 296.41 L529.28 296.46 L529.98 296.50 L530.69 296.55 L531.39 296.60 L532.10 296.64 L532.81 296.69 L533.51 296.73 L534.22 296.78 L534.92 296.82 L535.63 296.86 L536.33 296.90 L537.04 296.95 L537.75 296.99 L538.45 297.03 L539.16 297.07 L539.86 297.11 L540.57 297.14 L541.27 297.18 L541.98 297.22 L542.69 297.25 L543.39 297.29 L544.10 297.32 L544.80 297.36 L545.51 297.39 L546.21 297.43 L546.92 297.46 L547.63 297.49 L548.33 297.52 L549.04 297.55 L549.74 297.58 L550.45 297.61 L551.15 297.63 L551.86 297.66 L552.57 297.68 L553.27 297.71 L553.98 297.73 L554.68 297.76 L555.39 297.78 L556.09 297.80 L556.80 297.82 L557.51 297.84 L558.21 297.86 L558.92 297.87 L559.62 297.89 L560.33 297.91 L561.03 297.92 L561.74 297.94 L562.44 297.95 L563.15 297.97 L563.86 297.98 L564.56 298.00 L565.27 298.01 L565.97 298.02 L566.68 298.04 L567.38 298.05 L568.09 298.07 L568.80 298.08 L569.50 298.09 L570.21 298.10 L570.91 298.12 L571.62 298.13 L572.32 298.14 L573.03 298.15 L573.74 298.17 L574.44 298.18 L575.15 298.19 L575.85 298.20 L576.56 298.21 L577.26 298.22 L577.97 298.23 L578.68 298.25 L579.38 298.26 L580.09 298.27 L580.79 298.28 L581.50 298.29 L582.20 298.30 L582.91 298.31 L583.62 298.32 L584.32 298.33 L585.03 298.34 L585.73 298.35 L586.44 298.35 L587.14 298.36 L587.85 298.37 L588.56 298.38 L589.26 298.39 L589.97 298.40 L590.67 298.41 L591.38 298.42 L592.08 298.43 L592.79 298.43 L593.49 298.44 L594.20 298.45 L594.91 298.46 L595.61 298.47 L596.32 298.47 L597.02 298.48 L597.73 298.49 L598.43 298.50 L599.14 298.50 L599.85 298.51 L600.55 298.52 L601.26 298.53 L601.96 298.53 L602.67 298.54 L603.37 298.55 L604.08 298.55 L604.79 298.56 L605.49 298.57 L606.20 298.57 L606.90 298.58 L607.61 298.59 L608.31 298.59 L609.02 298.60 L609.73 298.61 L610.43 298.61 L611.14 298.62 L611.84 298.63 L612.55 298.63 L613.25 298.64 L613.96 298.65 L614.67 298.65 L615.37 298.66 L616.08 298.67 L616.78 298.67 L617.49 298.68 L618.19 298.68 L618.90 298.69 L619.61 298.70 L620.31 298.70 L621.02 298.71 L621.72 298.72 L622.43 298.72 L623.13 298.73 L623.84 298.73 L624.55 298.74 L625.25 298.75 L625.96 298.75 L626.66 298.76 L627.37 298.76 L628.07 298.77 L628.78 298.78 L629.48 298.78 L630.19 298.79 L630.90 298.79 L631.60 298.80 L632.31 298.81 L633.01 298.81 L633.72 298.82 L634.42 298.82 L635.13 298.83 L635.84 298.83 L636.54 298.84 L637.25 298.84 L637.95 298.85 L638.66 298.86 L639.36 298.86 L640.07 298.87 L640.78 298.87 L641.48 298.88 L642.19 298.88 L642.89 298.89 L643.60 298.89 L644.30 298.90 L645.01 298.90 L645.72 298.91 L646.42 298.91 L647.13 298.92 L647.83 298.92 L648.54 298.93 L649.24 298.93 L649.95 298.94 L650.66 298.94 L651.36 298.95 L652.07 298.95 L652.77 298.96 L653.48 298.96 L654.18 298.97 L654.89 298.97 L655.60 298.98 L656.30 298.98 L657.01 298.99 L657.71 298.99 L658.42 298.99 L659.12 299.00 L659.83 299.00 L660.54 299.01 L661.24 299.01 L661.95 299.02 L662.65 299.02 L663.36 299.02 L664.06 299.03 L664.77 299.03 L665.47 299.03 L666.18 299.04 L666.89 299.04 L667.59 299.05 L668.30 299.05 L669.00 299.05 L669.71 299.06 L670.41 299.06 L671.12 299.06 L671.83 299.07 L672.53 299.07 L673.24 299.07 L673.94 299.07 L674.65 299.08 L675.35 299.08 L676.06 299.08 L676.77 299.09 L677.47 299.09 L678.18 299.09 L678.88 299.09 L679.59 299.10 L680.29 299.10 L681.00 299.10" fill="none" stroke="#6f962f" stroke-width="1.0" stroke-linejoin="round"/>
<path d="M400.40 56.00 L400.63 56.00 L400.87 56.00 L401.10 56.00 L401.33 56.00 L401.56 56.00 L401.80 56.00 L402.03 56.00 L402.26 56.00 L402.49 56.00 L402.73 56.00 L402.96 56.00 L403.19 56.00 L403.43 56.00 L403.66 56.00 L403.89 56.00 L404.12 56.00 L404.36 56.00 L404.59 56.00 L404.82 56.00 L405.06 56.00 L405.29 56.00 L405.52 56.00 L405.75 56.00 L405.99 56.00 L406.22 56.00 L406.45 56.00 L406.68 56.00 L406.92 56.00 L407.15 56.00 L407.38 56.00 L407.62 56.00 L407.85 56.00 L408.08 56.00 L408.31 56.00 L408.55 56.00 L408.78 56.00 L409.01 56.00 L409.25 56.00 L409.48 56.00 L409.71 56.00 L409.94 56.00 L410.18 56.00 L410.41 56.00 L410.64 56.00 L410.87 56.00 L411.11 56.00 L411.34 56.00 L411.57 56.00 L411.81 56.00 L412.04 56.00 L412.27 56.00 L412.50 56.00 L412.74 56.00 L412.97 56.00 L413.20 56.00 L413.44 56.00 L413.67 56.00 L413.90 56.00 L414.13 56.00 L414.37 56.00 L414.60 56.00 L414.83 56.00 L415.06 56.00 L415.30 56.00 L415.53 56.00 L415.76 56.00 L416.00 56.00 L416.23 56.00 L416.46 56.00 L416.69 56.00 L416.93 56.00 L417.16 56.00 L417.39 56.00 L417.63 56.00 L417.86 56.00 L418.09 56.00 L418.32 56.00 L418.56 56.00 L418.79 56.00 L419.02 56.00 L419.25 56.00 L419.49 56.00 L419.72 56.00 L419.95 56.00 L420.19 56.00 L420.42 56.00 L420.65 56.00 L420.88 56.00 L421.12 56.00 L421.35 56.00 L421.58 56.00 L421.82 56.00 L422.05 56.00 L422.28 56.00 L422.51 56.00 L422.75 56.00 L422.98 56.00 L423.21 56.00 L423.44 56.00 L423.68 56.00 L423.91 56.00 L424.14 56.00 L424.38 56.00 L424.61 56.00 L424.84 56.00 L425.07 56.00 L425.31 56.00 L425.54 56.00 L425.77 56.40 L426.01 59.26 L426.24 62.36 L426.47 65.80 L426.70 69.53 L426.94 73.46 L427.17 77.54 L427.40 81.68 L427.63 85.82 L427.87 89.89 L428.10 93.81 L428.33 97.51 L428.57 100.95 L428.80 104.27 L429.03 107.53 L429.26 110.74 L429.50 113.89 L429.73 116.97 L429.96 119.97 L430.20 122.88 L430.43 125.70 L430.66 128.42 L430.89 131.04 L431.13 133.58 L431.36 136.05 L431.59 138.45 L431.82 140.80 L432.06 143.09 L432.29 145.34 L432.52 147.54 L432.76 149.71 L432.99 151.84 L433.22 153.95 L433.45 156.04 L433.69 158.11 L433.92 160.17 L434.15 162.22 L434.39 164.23 L434.62 166.21 L434.85 168.17 L435.08 170.11 L435.32 172.02 L435.55 173.91 L435.78 175.79 L436.01 177.64 L436.25 179.49 L436.48 181.32 L436.71 183.14 L436.95 184.95 L437.18 186.75 L437.41 188.55 L437.64 190.34 L437.88 192.15 L438.11 193.97 L438.34 195.80 L438.58 197.63 L438.81 199.47 L439.04 201.30 L439.27 203.11 L439.51 204.91 L439.74 206.69 L439.97 208.44 L440.20 210.15 L440.44 211.83 L440.67 213.46 L440.90 215.04 L441.14 216.56 L441.37 218.03 L441.60 219.43 L441.83 220.76 L442.07 222.08 L442.30 223.37 L442.53 224.65 L442.77 225.90 L443.00 227.14 L443.23 228.36 L443.46 229.56 L443.70 230.74 L443.93 231.90 L444.16 233.04 L444.39 234.17 L444.63 235.27 L444.86 236.36 L445.09 237.43 L445.33 238.48 L445.56 239.51 L445.79 240.53 L446.02 241.52 L446.26 242.50 L446.49 243.46 L446.72 244.40 L446.96 245.32 L447.19 246.23 L447.42 247.12 L447.65 247.99 L447.89 248.84 L448.12 249.67 L448.35 250.49 L448.58 251.29 L448.82 252.06 L449.05 252.82 L449.28 253.55 L449.52 254.26 L449.75 254.95 L449.98 255.63 L450.21 256.29 L450.45 256.94 L450.68 257.58 L450.91 258.20 L451.15 258.82 L451.38 259.43 L451.61 260.04 L451.84 260.64 L452.08 261.24 L452.31 261.83 L452.54 262.43 L452.77 263.03 L453.01 263.63 L453.24 264.24 L453.47 264.85 L453.71 265.47 L453.94 266.11 L454.17 266.76 L454.40 267.43 L454.64 268.11 L454.87 268.79 L455.10 269.48 L455.34 270.15 L455.57 270.81 L455.80 271.45 L456.03 272.07 L456.27 272.64 L456.50 273.18 L456.73 273.67 L456.96 274.11 L457.20 274.54 L457.43 274.97 L457.66 275.38 L457.90 275.78 L458.13 276.17 L458.36 276.55 L458.59 276.92 L458.83 277.29 L459.06 277.64 L459.29 277.99 L459.53 278.33 L459.76 278.66 L459.99 278.98 L460.22 279.30 L460.46 279.61 L460.69 279.91 L460.92 280.21 L461.15 280.50 L461.39 280.79 L461.62 281.07 L461.85 281.34 L462.09 281.61 L462.32 281.88 L462.55 282.14 L462.78 282.40 L463.02 282.66 L463.25 282.91 L463.48 283.16 L463.72 283.41 L463.95 283.66 L464.18 283.90 L464.41 284.14 L464.65 284.38 L464.88 284.61 L465.11 284.85 L465.34 285.08 L465.58 285.30 L465.81 285.53 L466.04 285.75 L466.28 285.97 L466.51 286.19 L466.74 286.41 L466.97 286.62 L467.21 286.83 L467.44 287.04 L467.67 287.24 L467.91 287.44 L468.14 287.64 L468.37 287.84 L468.60 288.03 L468.84 288.22 L469.07 288.41 L469.30 288.59 L469.53 288.77 L469.77 288.95 L470.00 289.13 L470.71 289.65 L471.41 290.14 L472.12 290.60 L472.82 291.04 L473.53 291.46 L474.23 291.86 L474.94 292.26 L475.65 292.64 L476.35 293.01 L477.06 293.36 L477.76 293.69 L478.47 294.01 L479.17 294.30 L479.88 294.58 L480.59 294.83 L481.29 295.07 L482.00 295.28 L482.70 295.48 L483.41 295.67 L484.11 295.85 L484.82 296.02 L485.53 296.18 L486.23 296.33 L486.94 296.48 L487.64 296.62 L488.35 296.76 L489.05 296.89 L489.76 297.02 L490.46 297.15 L491.17 297.27 L491.88 297.40 L492.58 297.52 L493.29 297.64 L493.99 297.75 L494.70 297.86 L495.40 297.97 L496.11 298.07 L496.82 298.16 L497.52 298.25 L498.23 298.32 L498.93 298.39 L499.64 298.46 L500.34 298.52 L501.05 298.58 L501.76 298.64 L502.46 298.70 L503.17 298.76 L503.87 298.82 L504.58 298.87 L505.28 298.92 L505.99 298.97 L506.70 299.02 L507.40 299.07 L508.11 299.11 L508.81 299.16 L509.52 299.19 L510.22 299.23 L510.93 299.26 L511.64 299.30 L512.34 299.32 L513.05 299.35 L513.75 299.37 L514.46 299.39 L515.16 299.41 L515.87 299.42 L516.58 299.43 L517.28 299.45 L517.99 299.46 L518.69 299.48 L519.40 299.49 L520.10 299.50 L520.81 299.52 L521.52 299.53 L522.22 299.54 L522.93 299.55 L523.63 299.57 L524.34 299.58 L525.04 299.59 L525.75 299.60 L526.45 299.61 L527.16 299.62 L527.87 299.63 L528.57 299.64 L529.28 299.65 L529.98 299.66 L530.69 299.67 L531.39 299.68 L532.10 299.69 L532.81 299.70 L533.51 299.71 L534.22 299.72 L534.92 299.72 L535.63 299.73 L536.33 299.74 L537.04 299.75 L537.75 299.75 L538.45 299.76 L539.16 299.77 L539.86 299.78 L540.57 299.78 L541.27 299.79 L541.98 299.79 L542.69 299.80 L543.39 299.81 L544.10 299.81 L544.80 299.82 L545.51 299.82 L546.21 299.83 L546.92 299.83 L547.63 299.84 L548.33 299.84 L549.04 299.85 L549.74 299.85 L550.45 299.86 L551.15 299.86 L551.86 299.86 L552.57 299.87 L553.27 299.87 L553.98 299.88 L554.68 299.88 L555.39 299.88 L556.09 299.89 L556.80 299.89 L557.51 299.89 L558.21 299.89 L558.92 299.90 L559.62 299.90 L560.33 299.90 L561.03 299.90 L561.74 299.91 L562.44 299.91 L563.15 299.91 L563.86 299.91 L564.56 299.91 L565.27 299.92 L565.97 299.92 L566.68 299.92 L567.38 299.92 L568.09 299.93 L568.80 299.93 L569.50 299.93 L570.21 299.93 L570.91 299.93 L571.62 299.94 L572.32 299.94 L573.03 299.94 L573.74 299.94 L574.44 299.94 L575.15 299.95 L575.85 299.95 L576.56 299.95 L577.26 299.95 L577.97 299.95 L578.68 299.96 L579.38 299.96 L580.09 299.96 L580.79 299.96 L581.50 299.96 L582.20 299.97 L582.91 299.97 L583.62 299.97 L584.32 299.97 L585.03 299.97 L585.73 299.98 L586.44 299.98 L587.14 299.98 L587.85 299.98 L588.56 299.98 L589.26 299.98 L589.97 299.99 L590.67 299.99 L591.38 299.99 L592.08 299.99 L592.79 299.99 L593.49 299.99 L594.20 300.00 L594.91 300.00 L595.61 300.00 L596.32 300.00 L597.02 300.00 L597.73 300.00 L598.43 300.01 L599.14 300.01 L599.85 300.01 L600.55 300.01 L601.26 300.01 L601.96 300.01 L602.67 300.02 L603.37 300.02 L604.08 300.02 L604.79 300.02 L605.49 300.02 L606.20 300.02 L606.90 300.02 L607.61 300.03 L608.31 300.03 L609.02 300.03 L609.73 300.03 L610.43 300.03 L611.14 300.03 L611.84 300.03 L612.55 300.03 L613.25 300.04 L613.96 300.04 L614.67 300.04 L615.37 300.04 L616.08 300.04 L616.78 300.04 L617.49 300.04 L618.19 300.05 L618.90 300.05 L619.61 300.05 L620.31 300.05 L621.02 300.05 L621.72 300.05 L622.43 300.05 L623.13 300.05 L623.84 300.05 L624.55 300.06 L625.25 300.06 L625.96 300.06 L626.66 300.06 L627.37 300.06 L628.07 300.06 L628.78 300.06 L629.48 300.06 L630.19 300.06 L630.90 300.06 L631.60 300.07 L632.31 300.07 L633.01 300.07 L633.72 300.07 L634.42 300.07 L635.13 300.07 L635.84 300.07 L636.54 300.07 L637.25 300.07 L637.95 300.07 L638.66 300.07 L639.36 300.08 L640.07 300.08 L640.78 300.08 L641.48 300.08 L642.19 300.08 L642.89 300.08 L643.60 300.08 L644.30 300.08 L645.01 300.08 L645.72 300.08 L646.42 300.08 L647.13 300.08 L647.83 300.08 L648.54 300.09 L649.24 300.09 L649.95 300.09 L650.66 300.09 L651.36 300.09 L652.07 300.09 L652.77 300.09 L653.48 300.09 L654.18 300.09 L654.89 300.09 L655.60 300.09 L656.30 300.09 L657.01 300.09 L657.71 300.09 L658.42 300.09 L659.12 300.09 L659.83 300.09 L660.54 300.09 L661.24 300.09 L661.95 300.09 L662.65 300.10 L663.36 300.10 L664.06 300.10 L664.77 300.10 L665.47 300.10 L666.18 300.10 L666.89 300.10 L667.59 300.10 L668.30 300.10 L669.00 300.10 L669.71 300.10 L670.41 300.10 L671.12 300.10 L671.83 300.10 L672.53 300.10 L673.24 300.10 L673.94 300.10 L674.65 300.10 L675.35 300.10 L676.06 300.10 L676.77 300.10 L677.47 300.10 L678.18 300.10 L678.88 300.10 L679.59 300.10 L680.29 300.10 L681.00 300.10" fill="none" stroke="#f5a623" stroke-width="1.0" stroke-linejoin="round"/>
<path d="M400.40 56.00 L400.63 56.00 L400.87 56.00 L401.10 56.00 L401.33 56.00 L401.56 56.00 L401.80 56.00 L402.03 56.00 L402.26 56.00 L402.49 56.00 L402.73 56.00 L402.96 56.00 L403.19 56.00 L403.43 56.00 L403.66 56.00 L403.89 56.00 L404.12 56.00 L404.36 56.00 L404.59 56.00 L404.82 56.00 L405.06 56.00 L405.29 56.00 L405.52 56.00 L405.75 56.00 L405.99 56.00 L406.22 56.00 L406.45 56.00 L406.68 56.00 L406.92 56.00 L407.15 56.00 L407.38 56.00 L407.62 56.00 L407.85 56.00 L408.08 56.00 L408.31 56.00 L408.55 56.00 L408.78 56.00 L409.01 56.00 L409.25 56.00 L409.48 56.00 L409.71 56.00 L409.94 56.00 L410.18 56.00 L410.41 56.00 L410.64 56.00 L410.87 56.00 L411.11 56.00 L411.34 56.00 L411.57 56.00 L411.81 56.00 L412.04 56.00 L412.27 56.00 L412.50 56.00 L412.74 56.00 L412.97 56.00 L413.20 56.00 L413.44 56.00 L413.67 56.00 L413.90 56.00 L414.13 56.00 L414.37 56.00 L414.60 56.00 L414.83 56.00 L415.06 56.00 L415.30 56.00 L415.53 56.00 L415.76 56.00 L416.00 56.00 L416.23 56.00 L416.46 56.00 L416.69 56.00 L416.93 56.00 L417.16 56.00 L417.39 56.00 L417.63 56.00 L417.86 56.00 L418.09 56.00 L418.32 56.00 L418.56 56.00 L418.79 56.00 L419.02 56.00 L419.25 56.00 L419.49 56.00 L419.72 56.00 L419.95 56.00 L420.19 56.00 L420.42 56.00 L420.65 56.00 L420.88 56.00 L421.12 56.00 L421.35 56.00 L421.58 56.00 L421.82 56.00 L422.05 56.00 L422.28 56.00 L422.51 56.00 L422.75 56.00 L422.98 56.00 L423.21 56.00 L423.44 56.00 L423.68 56.00 L423.91 56.00 L424.14 56.00 L424.38 56.00 L424.61 56.00 L424.84 56.00 L425.07 56.00 L425.31 56.00 L425.54 56.00 L425.77 58.46 L426.01 67.55 L426.24 81.14 L426.47 94.48 L426.70 103.50 L426.94 110.66 L427.17 116.99 L427.40 122.62 L427.63 127.67 L427.87 132.28 L428.10 136.54 L428.33 140.49 L428.57 144.19 L428.80 147.67 L429.03 150.99 L429.26 154.18 L429.50 157.30 L429.73 160.39 L429.96 163.46 L430.20 166.47 L430.43 169.43 L430.66 172.32 L430.89 175.14 L431.13 177.86 L431.36 180.50 L431.59 183.03 L431.82 185.45 L432.06 187.75 L432.29 189.91 L432.52 191.99 L432.76 194.02 L432.99 196.00 L433.22 197.94 L433.45 199.84 L433.69 201.69 L433.92 203.49 L434.15 205.24 L434.39 206.95 L434.62 208.60 L434.85 210.20 L435.08 211.75 L435.32 213.25 L435.55 214.69 L435.78 216.08 L436.01 217.41 L436.25 218.68 L436.48 219.90 L436.71 221.07 L436.95 222.22 L437.18 223.35 L437.41 224.45 L437.64 225.53 L437.88 226.59 L438.11 227.63 L438.34 228.65 L438.58 229.65 L438.81 230.63 L439.04 231.59 L439.27 232.53 L439.51 233.45 L439.74 234.36 L439.97 235.25 L440.20 236.12 L440.44 236.98 L440.67 237.82 L440.90 238.65 L441.14 239.47 L441.37 240.27 L441.60 241.06 L441.83 241.83 L442.07 242.59 L442.30 243.35 L442.53 244.09 L442.77 244.82 L443.00 245.54 L443.23 246.25 L443.46 246.96 L443.70 247.65 L443.93 248.34 L444.16 249.02 L444.39 249.70 L444.63 250.37 L444.86 251.03 L445.09 251.69 L445.33 252.34 L445.56 252.99 L445.79 253.63 L446.02 254.26 L446.26 254.88 L446.49 255.50 L446.72 256.11 L446.96 256.71 L447.19 257.31 L447.42 257.89 L447.65 258.47 L447.89 259.03 L448.12 259.59 L448.35 260.13 L448.58 260.67 L448.82 261.19 L449.05 261.70 L449.28 262.21 L449.52 262.69 L449.75 263.17 L449.98 263.63 L450.21 264.08 L450.45 264.52 L450.68 264.94 L450.91 265.35 L451.15 265.75 L451.38 266.13 L451.61 266.49 L451.84 266.85 L452.08 267.20 L452.31 267.53 L452.54 267.86 L452.77 268.18 L453.01 268.49 L453.24 268.79 L453.47 269.09 L453.71 269.38 L453.94 269.66 L454.17 269.94 L454.40 270.21 L454.64 270.48 L454.87 270.75 L455.10 271.01 L455.34 271.27 L455.57 271.53 L455.80 271.79 L456.03 272.05 L456.27 272.31 L456.50 272.56 L456.73 272.82 L456.96 273.08 L457.20 273.34 L457.43 273.60 L457.66 273.85 L457.90 274.11 L458.13 274.36 L458.36 274.61 L458.59 274.86 L458.83 275.11 L459.06 275.35 L459.29 275.59 L459.53 275.83 L459.76 276.07 L459.99 276.31 L460.22 276.55 L460.46 276.78 L460.69 277.01 L460.92 277.24 L461.15 277.47 L461.39 277.69 L461.62 277.92 L461.85 278.14 L462.09 278.36 L462.32 278.57 L462.55 278.79 L462.78 279.00 L463.02 279.21 L463.25 279.42 L463.48 279.62 L463.72 279.83 L463.95 280.03 L464.18 280.23 L464.41 280.43 L464.65 280.62 L464.88 280.82 L465.11 281.01 L465.34 281.21 L465.58 281.40 L465.81 281.59 L466.04 281.79 L466.28 281.97 L466.51 282.16 L466.74 282.35 L466.97 282.54 L467.21 282.72 L467.44 282.90 L467.67 283.08 L467.91 283.26 L468.14 283.44 L468.37 283.62 L468.60 283.79 L468.84 283.97 L469.07 284.14 L469.30 284.31 L469.53 284.47 L469.77 284.64 L470.00 284.80 L470.71 285.29 L471.41 285.76 L472.12 286.21 L472.82 286.63 L473.53 287.05 L474.23 287.45 L474.94 287.85 L475.65 288.24 L476.35 288.61 L477.06 288.97 L477.76 289.32 L478.47 289.66 L479.17 289.98 L479.88 290.29 L480.59 290.58 L481.29 290.86 L482.00 291.12 L482.70 291.38 L483.41 291.63 L484.11 291.88 L484.82 292.11 L485.53 292.34 L486.23 292.56 L486.94 292.77 L487.64 292.97 L488.35 293.16 L489.05 293.33 L489.76 293.50 L490.46 293.66 L491.17 293.81 L491.88 293.95 L492.58 294.09 L493.29 294.22 L493.99 294.35 L494.70 294.47 L495.40 294.59 L496.11 294.70 L496.82 294.80 L497.52 294.90 L498.23 295.00 L498.93 295.09 L499.64 295.18 L500.34 295.26 L501.05 295.35 L501.76 295.43 L502.46 295.51 L503.17 295.59 L503.87 295.66 L504.58 295.74 L505.28 295.81 L505.99 295.88 L506.70 295.95 L507.40 296.01 L508.11 296.08 L508.81 296.14 L509.52 296.20 L510.22 296.26 L510.93 296.32 L511.64 296.37 L512.34 296.42 L513.05 296.47 L513.75 296.52 L514.46 296.57 L515.16 296.62 L515.87 296.66 L516.58 296.71 L517.28 296.75 L517.99 296.79 L518.69 296.84 L519.40 296.88 L520.10 296.92 L520.81 296.97 L521.52 297.01 L522.22 297.05 L522.93 297.09 L523.63 297.13 L524.34 297.17 L525.04 297.21 L525.75 297.25 L526.45 297.29 L527.16 297.33 L527.87 297.37 L528.57 297.40 L529.28 297.44 L529.98 297.48 L530.69 297.52 L531.39 297.55 L532.10 297.59 L532.81 297.62 L533.51 297.66 L534.22 297.69 L534.92 297.72 L535.63 297.76 L536.33 297.79 L537.04 297.82 L537.75 297.86 L538.45 297.89 L539.16 297.92 L539.86 297.95 L540.57 297.98 L541.27 298.01 L541.98 298.04 L542.69 298.07 L543.39 298.09 L544.10 298.12 L544.80 298.15 L545.51 298.18 L546.21 298.20 L546.92 298.23 L547.63 298.25 L548.33 298.28 L549.04 298.30 L549.74 298.32 L550.45 298.35 L551.15 298.37 L551.86 298.39 L552.57 298.41 L553.27 298.43 L553.98 298.45 L554.68 298.47 L555.39 298.49 L556.09 298.51 L556.80 298.53 L557.51 298.54 L558.21 298.56 L558.92 298.58 L559.62 298.59 L560.33 298.61 L561.03 298.62 L561.74 298.64 L562.44 298.65 L563.15 298.66 L563.86 298.68 L564.56 298.69 L565.27 298.71 L565.97 298.72 L566.68 298.73 L567.38 298.75 L568.09 298.76 L568.80 298.77 L569.50 298.78 L570.21 298.80 L570.91 298.81 L571.62 298.82 L572.32 298.83 L573.03 298.85 L573.74 298.86 L574.44 298.87 L575.15 298.88 L575.85 298.89 L576.56 298.90 L577.26 298.91 L577.97 298.92 L578.68 298.94 L579.38 298.95 L580.09 298.96 L580.79 298.97 L581.50 298.98 L582.20 298.99 L582.91 299.00 L583.62 299.01 L584.32 299.02 L585.03 299.03 L585.73 299.04 L586.44 299.05 L587.14 299.06 L587.85 299.06 L588.56 299.07 L589.26 299.08 L589.97 299.09 L590.67 299.10 L591.38 299.11 L592.08 299.12 L592.79 299.13 L593.49 299.13 L594.20 299.14 L594.91 299.15 L595.61 299.16 L596.32 299.17 L597.02 299.18 L597.73 299.18 L598.43 299.19 L599.14 299.20 L599.85 299.21 L600.55 299.21 L601.26 299.22 L601.96 299.23 L602.67 299.24 L603.37 299.24 L604.08 299.25 L604.79 299.26 L605.49 299.26 L606.20 299.27 L606.90 299.28 L607.61 299.29 L608.31 299.29 L609.02 299.30 L609.73 299.31 L610.43 299.31 L611.14 299.32 L611.84 299.33 L612.55 299.33 L613.25 299.34 L613.96 299.35 L614.67 299.35 L615.37 299.36 L616.08 299.37 L616.78 299.37 L617.49 299.38 L618.19 299.38 L618.90 299.39 L619.61 299.40 L620.31 299.40 L621.02 299.41 L621.72 299.42 L622.43 299.42 L623.13 299.43 L623.84 299.43 L624.55 299.44 L625.25 299.45 L625.96 299.45 L626.66 299.46 L627.37 299.46 L628.07 299.47 L628.78 299.48 L629.48 299.48 L630.19 299.49 L630.90 299.49 L631.60 299.50 L632.31 299.51 L633.01 299.51 L633.72 299.52 L634.42 299.52 L635.13 299.53 L635.84 299.53 L636.54 299.54 L637.25 299.54 L637.95 299.55 L638.66 299.56 L639.36 299.56 L640.07 299.57 L640.78 299.57 L641.48 299.58 L642.19 299.58 L642.89 299.59 L643.60 299.59 L644.30 299.60 L645.01 299.60 L645.72 299.61 L646.42 299.61 L647.13 299.62 L647.83 299.62 L648.54 299.63 L649.24 299.63 L649.95 299.64 L650.66 299.64 L651.36 299.65 L652.07 299.65 L652.77 299.66 L653.48 299.66 L654.18 299.67 L654.89 299.67 L655.60 299.68 L656.30 299.68 L657.01 299.69 L657.71 299.69 L658.42 299.69 L659.12 299.70 L659.83 299.70 L660.54 299.71 L661.24 299.71 L661.95 299.72 L662.65 299.72 L663.36 299.72 L664.06 299.73 L664.77 299.73 L665.47 299.73 L666.18 299.74 L666.89 299.74 L667.59 299.75 L668.30 299.75 L669.00 299.75 L669.71 299.76 L670.41 299.76 L671.12 299.76 L671.83 299.77 L672.53 299.77 L673.24 299.77 L673.94 299.77 L674.65 299.78 L675.35 299.78 L676.06 299.78 L676.77 299.79 L677.47 299.79 L678.18 299.79 L678.88 299.79 L679.59 299.80 L680.29 299.80 L681.00 299.80" fill="none" stroke="#f0463c" stroke-width="1.0" stroke-linejoin="round"/>
<text x="352.6" y="18.9" font-family='"Liberation Serif", serif' font-size="26.2" fill="#222">b)</text>
<text x="635" y="240.9" font-size="9"><tspan font-style="italic">p</tspan><tspan font-size="6" dy="1.9">end</tspan><tspan dy="-1.9" dx="0.6"> / bar</tspan></text>
<path d="M633.8 255.0H646.4" stroke="#6f962f" stroke-width="1.2"/>
<text x="648.7" y="258.1" font-size="8.6">500</text>
<path d="M633.8 262.95H646.4" stroke="#f5a623" stroke-width="1.2"/>
<text x="648.7" y="266.05" font-size="8.6">1000</text>
<path d="M633.8 270.9H646.4" stroke="#f0463c" stroke-width="1.2"/>
<text x="648.7" y="274.0" font-size="8.6">1500</text>
<text x="440.5" y="59.6" font-size="8.6" font-weight="bold"><tspan font-style="italic">p</tspan><tspan font-size="6.5" dy="1.7">start</tspan><tspan dy="-1.7"> = 1 bar</tspan></text>
<text x="634.3" y="312.7" font-size="8.7" font-weight="bold"><tspan font-style="italic">p</tspan><tspan font-size="6.5" dy="1.7">end</tspan></text>
</svg>
</body></html>
